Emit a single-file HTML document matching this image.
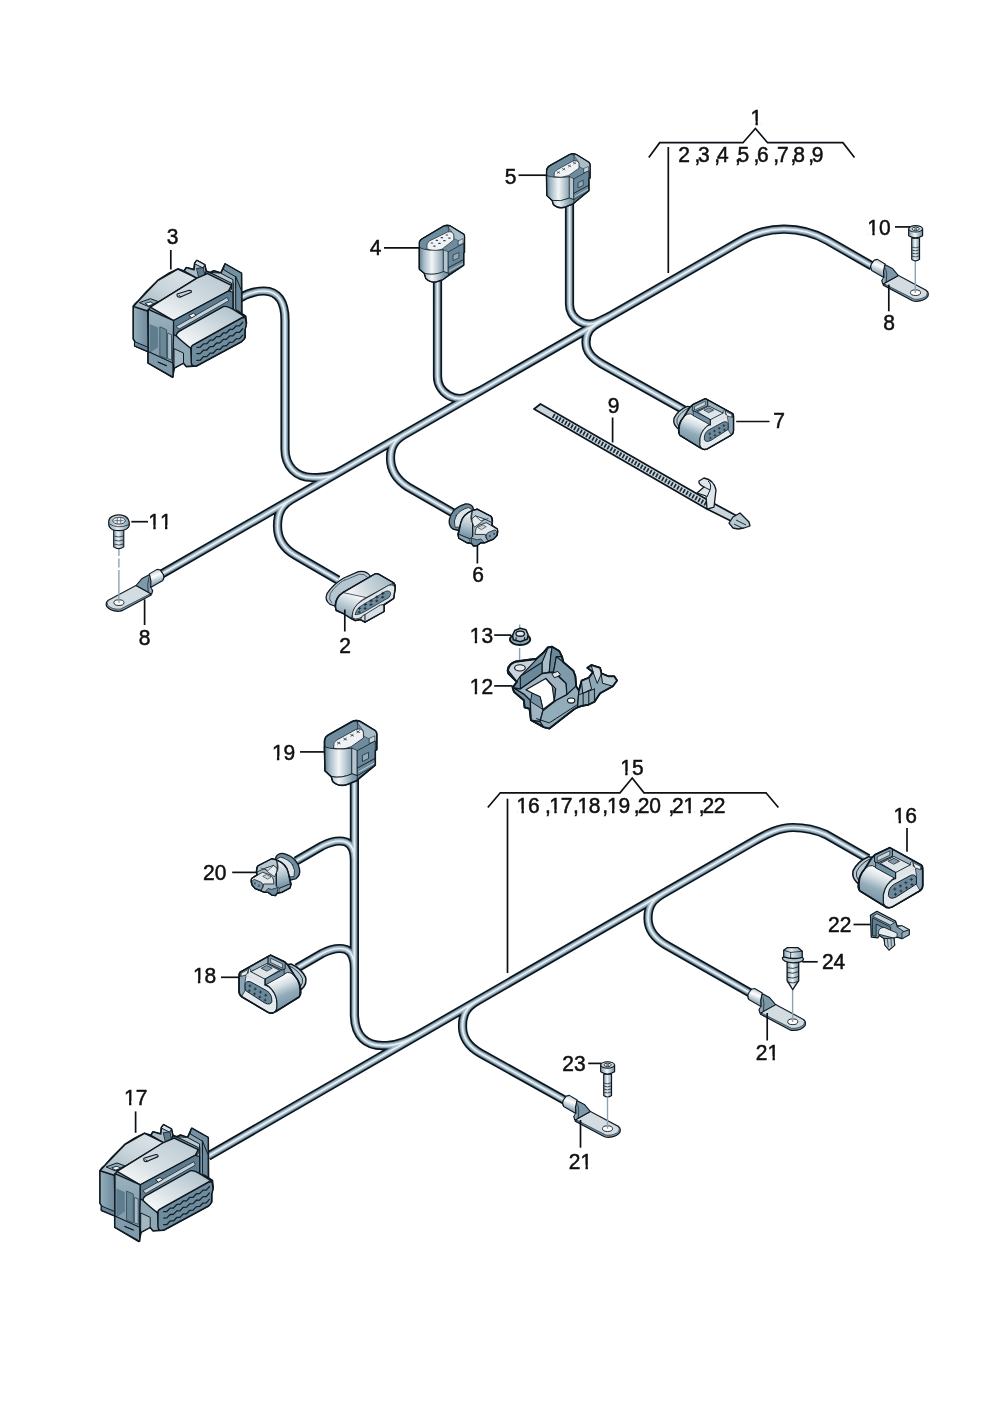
<!DOCTYPE html>
<html><head><meta charset="utf-8"><title>Wiring harness</title>
<style>
html,body{margin:0;padding:0;background:#fff;}
body{width:992px;height:1403px;overflow:hidden;}
svg{display:block;}
text{font-family:"Liberation Sans",sans-serif;fill:#0b1116;stroke:#0b1116;stroke-width:0.5px;}
</style></head><body>
<svg width="992" height="1403" viewBox="0 0 992 1403">
<rect width="992" height="1403" fill="#fff"/>
<g id="wires">
<path d="M160,575 L740.2,241.3 A87,87 0 0 1 827.2,240.3 L872,266 M240,298 C250,292 258,291 264,291 C278,291 285,302 285,320 L285,449 C285,466 296,477.5 312,477.5 C320,478 327,477.5 334,474.9 M437.5,280 L437.5,376 A22,22 0 0 0 470.5,395.4 L481,390.4 M569.5,203 L569.5,303 A20,20 0 0 0 599.5,321.3 L610,316.2 M600,322 C590,327.7 586,332 586,342 C586,352 592,358 602,364 L684,410 M405,434.1 C395,439.8 390.5,446 390.5,458 C390.5,470 397,480 408,487 L455,514 M292,499.1 C282,504.8 277.5,512 277.5,526 C277.5,538 283,548 295,555 L338,580" fill="none" stroke="#0c151c" stroke-width="9.2" stroke-linecap="butt" stroke-linejoin="round"/>
<path d="M160,575 L740.2,241.3 A87,87 0 0 1 827.2,240.3 L872,266 M240,298 C250,292 258,291 264,291 C278,291 285,302 285,320 L285,449 C285,466 296,477.5 312,477.5 C320,478 327,477.5 334,474.9 M437.5,280 L437.5,376 A22,22 0 0 0 470.5,395.4 L481,390.4 M569.5,203 L569.5,303 A20,20 0 0 0 599.5,321.3 L610,316.2 M600,322 C590,327.7 586,332 586,342 C586,352 592,358 602,364 L684,410 M405,434.1 C395,439.8 390.5,446 390.5,458 C390.5,470 397,480 408,487 L455,514 M292,499.1 C282,504.8 277.5,512 277.5,526 C277.5,538 283,548 295,555 L338,580" fill="none" stroke="#5f7d90" stroke-width="6.0" stroke-linecap="butt" stroke-linejoin="round"/>
<path d="M160,575 L740.2,241.3 A87,87 0 0 1 827.2,240.3 L872,266 M240,298 C250,292 258,291 264,291 C278,291 285,302 285,320 L285,449 C285,466 296,477.5 312,477.5 C320,478 327,477.5 334,474.9 M437.5,280 L437.5,376 A22,22 0 0 0 470.5,395.4 L481,390.4 M569.5,203 L569.5,303 A20,20 0 0 0 599.5,321.3 L610,316.2 M600,322 C590,327.7 586,332 586,342 C586,352 592,358 602,364 L684,410 M405,434.1 C395,439.8 390.5,446 390.5,458 C390.5,470 397,480 408,487 L455,514 M292,499.1 C282,504.8 277.5,512 277.5,526 C277.5,538 283,548 295,555 L338,580" fill="none" stroke="#a5bac7" stroke-width="4.3" stroke-linecap="butt" stroke-linejoin="round"/>
<path d="M160,575 L740.2,241.3 A87,87 0 0 1 827.2,240.3 L872,266 M240,298 C250,292 258,291 264,291 C278,291 285,302 285,320 L285,449 C285,466 296,477.5 312,477.5 C320,478 327,477.5 334,474.9 M437.5,280 L437.5,376 A22,22 0 0 0 470.5,395.4 L481,390.4 M569.5,203 L569.5,303 A20,20 0 0 0 599.5,321.3 L610,316.2 M600,322 C590,327.7 586,332 586,342 C586,352 592,358 602,364 L684,410 M405,434.1 C395,439.8 390.5,446 390.5,458 C390.5,470 397,480 408,487 L455,514 M292,499.1 C282,504.8 277.5,512 277.5,526 C277.5,538 283,548 295,555 L338,580" fill="none" stroke="#e9eff2" stroke-width="1.7" stroke-linecap="butt" stroke-linejoin="round"/>
<path d="M208,1156.3 L752,842.3 C768,833 780,827.5 793,827.5 C805,827.5 815,829.5 826,834.5 L868,858.5 M354.4,780 L354.4,1014 C354.4,1036 366,1046.5 385,1045.5 C397,1046 408,1041 426,1030.5 M296,861 L322,846 C332,841 340,840 346,842 C351,844 354.4,850 354.4,860 L354.4,875 M297,968 L322,953.5 C332,948.5 340,947.5 346,949.5 C351,951.5 354.4,958 354.4,968 L354.4,982 M478,1000.5 C467,1006.8 462.5,1013 462.5,1026 C462.5,1038 468,1046 480,1053 L566,1101 M664,893.1 C653,899.5 648,905 648,918 C648,930 654,938 666,945 L752,994" fill="none" stroke="#0c151c" stroke-width="9.2" stroke-linecap="butt" stroke-linejoin="round"/>
<path d="M208,1156.3 L752,842.3 C768,833 780,827.5 793,827.5 C805,827.5 815,829.5 826,834.5 L868,858.5 M354.4,780 L354.4,1014 C354.4,1036 366,1046.5 385,1045.5 C397,1046 408,1041 426,1030.5 M296,861 L322,846 C332,841 340,840 346,842 C351,844 354.4,850 354.4,860 L354.4,875 M297,968 L322,953.5 C332,948.5 340,947.5 346,949.5 C351,951.5 354.4,958 354.4,968 L354.4,982 M478,1000.5 C467,1006.8 462.5,1013 462.5,1026 C462.5,1038 468,1046 480,1053 L566,1101 M664,893.1 C653,899.5 648,905 648,918 C648,930 654,938 666,945 L752,994" fill="none" stroke="#5f7d90" stroke-width="6.0" stroke-linecap="butt" stroke-linejoin="round"/>
<path d="M208,1156.3 L752,842.3 C768,833 780,827.5 793,827.5 C805,827.5 815,829.5 826,834.5 L868,858.5 M354.4,780 L354.4,1014 C354.4,1036 366,1046.5 385,1045.5 C397,1046 408,1041 426,1030.5 M296,861 L322,846 C332,841 340,840 346,842 C351,844 354.4,850 354.4,860 L354.4,875 M297,968 L322,953.5 C332,948.5 340,947.5 346,949.5 C351,951.5 354.4,958 354.4,968 L354.4,982 M478,1000.5 C467,1006.8 462.5,1013 462.5,1026 C462.5,1038 468,1046 480,1053 L566,1101 M664,893.1 C653,899.5 648,905 648,918 C648,930 654,938 666,945 L752,994" fill="none" stroke="#a5bac7" stroke-width="4.3" stroke-linecap="butt" stroke-linejoin="round"/>
<path d="M208,1156.3 L752,842.3 C768,833 780,827.5 793,827.5 C805,827.5 815,829.5 826,834.5 L868,858.5 M354.4,780 L354.4,1014 C354.4,1036 366,1046.5 385,1045.5 C397,1046 408,1041 426,1030.5 M296,861 L322,846 C332,841 340,840 346,842 C351,844 354.4,850 354.4,860 L354.4,875 M297,968 L322,953.5 C332,948.5 340,947.5 346,949.5 C351,951.5 354.4,958 354.4,968 L354.4,982 M478,1000.5 C467,1006.8 462.5,1013 462.5,1026 C462.5,1038 468,1046 480,1053 L566,1101 M664,893.1 C653,899.5 648,905 648,918 C648,930 654,938 666,945 L752,994" fill="none" stroke="#e9eff2" stroke-width="1.7" stroke-linecap="butt" stroke-linejoin="round"/>
</g>
<g id="tie9"><path d="M540.5,404 L534,409 L707,509 L733,522 L737,516 L713,503 Z" fill="#c9d5db" stroke="#0e1820" stroke-width="1.8" stroke-linejoin="round"/>
<path d="M553,415.5 L708,505" fill="none" stroke="#1c2b36" stroke-width="4.4" stroke-dasharray="1.7 1.8"/>
<path d="M697,493 L704,487 Q698,484 699,481 L704,478 Q714,480 716,490 L714,507 L707,509 L706,496 Z" fill="#dfe6ea" stroke="#0e1820" stroke-width="1.3" stroke-linejoin="round"/>
<path d="M704,487 L710,490 L707,497 M710,490 Q712,484 708,481" fill="none" stroke="#0e1820" stroke-width="1"/>
<path d="M729,523 L733,517 L740,513 L744,517 L749,522 L750,526 L744,528 L738,529 L733,528 Z" fill="#b9c9d2" stroke="#0e1820" stroke-width="1.3" stroke-linejoin="round"/>
<path d="M736,520 L746,525 M734,524 L742,528" fill="none" stroke="#0e1820" stroke-width="0.9"/></g>
<g id="conn3"><g transform="translate(120,250) scale(0.14112)"><defs>
<linearGradient id="c3g1" x1="0" y1="0" x2="1" y2="0"><stop offset="0" stop-color="#94adbb"/><stop offset="1" stop-color="#6c899b"/></linearGradient>
<linearGradient id="c3g2" x1="0" y1="1" x2="1" y2="0"><stop offset="0" stop-color="#9db2bf"/><stop offset="0.5" stop-color="#c9d5db"/><stop offset="1" stop-color="#dfe6ea"/></linearGradient>
<linearGradient id="c3g3" x1="0" y1="1" x2="1" y2="0"><stop offset="0" stop-color="#fbfcfc"/><stop offset="0.45" stop-color="#d5dee3"/><stop offset="1" stop-color="#b7c6cf"/></linearGradient>
<linearGradient id="c3g4" x1="0" y1="0" x2="0" y2="1"><stop offset="0" stop-color="#9ab0bd"/><stop offset="1" stop-color="#7995a6"/></linearGradient>
<linearGradient id="c3g5" x1="0" y1="1" x2="1" y2="0"><stop offset="0" stop-color="#ffffff"/><stop offset="0.5" stop-color="#d3dde2"/><stop offset="1" stop-color="#a9bcc7"/></linearGradient>
</defs><path d="M95,400 L110,380 L130,362 L180,305 L270,215 L340,170 L410,135 L455,150 L470,125 L525,140 L530,95 L545,75 L600,105 L610,150 L640,160 L665,148 L715,165 L745,100 L860,165 L862,450 L890,470 L895,520 L885,560 L885,620 L860,650 L545,820 L470,825 L450,800 L385,835 L370,900 L200,800 L200,720 L105,680 L108,650 L95,630 Z" fill="#7d99aa" stroke="#0e1820" stroke-width="14" stroke-linejoin="round" stroke-linecap="round" />
<path d="M95,400 L195,432 L200,650 L200,720 L105,680 L108,650 L95,630 Z" fill="url(#c3g1)" stroke="#0e1820" stroke-width="8" stroke-linejoin="round" stroke-linecap="round" />
<path d="M105,650 L200,690 L200,720 L105,680 Z" fill="#6a8799" stroke="#0e1820" stroke-width="7" stroke-linejoin="round" stroke-linecap="round" />
<path d="M95,400 L130,362 L270,215 L410,135 L545,200 L215,405 L195,432 Z" fill="url(#c3g2)" stroke="#0e1820" stroke-width="10" stroke-linejoin="round" stroke-linecap="round" />
<path d="M140,372 L215,345 L270,365 L205,400 Z" fill="#8fa8b6" stroke="#0e1820" stroke-width="7" stroke-linejoin="round" stroke-linecap="round" />
<path d="M180,378 L215,368 L240,382 L205,395 Z" fill="#f4f7f8" stroke="#0e1820" stroke-width="6" stroke-linejoin="round" stroke-linecap="round" />
<path d="M455,150 L470,125 L525,140 L530,95 L545,75 L600,105 L610,150 L600,180 L560,200 L545,200 Z" fill="#a9bcc8" stroke="#0e1820" stroke-width="10" stroke-linejoin="round" stroke-linecap="round" />
<path d="M530,95 L545,75 L600,105 L590,125 Z" fill="#d9e2e7" stroke="#0e1820" stroke-width="7" stroke-linejoin="round" stroke-linecap="round" />
<path d="M545,130 L590,125 L600,175 L560,195 Z" fill="#5d7a8c" stroke="#0e1820" stroke-width="6" stroke-linejoin="round" stroke-linecap="round" />
<path d="M640,160 L665,148 L715,165 L745,100 L860,165 L862,450 L800,420 L800,235 Z" fill="#8aa4b3" stroke="#0e1820" stroke-width="10" stroke-linejoin="round" stroke-linecap="round" />
<path d="M745,100 L860,165 L860,290 L820,270 L820,190 L735,140 Z" fill="#7391a3" stroke="#0e1820" stroke-width="7" stroke-linejoin="round" stroke-linecap="round" />
<path d="M715,165 L800,210 L800,420 L770,400 L770,290 L790,280 L790,235 L640,160 Z" fill="#b9c8d1" stroke="#0e1820" stroke-width="7" stroke-linejoin="round" stroke-linecap="round" />
<path d="M820,190 L820,420 L860,445 L860,290 Z" fill="#6d8a9c" stroke="#0e1820" stroke-width="7" stroke-linejoin="round" stroke-linecap="round" />
<path d="M215,405 L545,200 L620,168 L790,250 L770,290 L380,500 Z" fill="url(#c3g3)" stroke="#0e1820" stroke-width="10" stroke-linejoin="round" stroke-linecap="round" />
<path d="M405,312 L490,285 Q510,285 505,300 L425,335 Q400,335 405,312 Z" fill="#c5d1d8" stroke="#0e1820" stroke-width="8" stroke-linejoin="round" stroke-linecap="round" />
<path d="M420,322 L430,332" fill="none" stroke="#0e1820" stroke-width="7" stroke-linejoin="round" stroke-linecap="round" />
<path d="M200,420 L380,500 L375,900 L200,800 Z" fill="url(#c3g4)" stroke="#0e1820" stroke-width="10" stroke-linejoin="round" stroke-linecap="round" />
<path d="M210,525 L270,550 L270,690 L210,730 Z" fill="#5f7d8f" stroke="none" stroke-width="7" stroke-linejoin="round" stroke-linecap="round" />
<path d="M285,545 L330,565 L330,770 L285,750 Z" fill="#6b8899" stroke="#3d5564" stroke-width="7" stroke-linejoin="round" stroke-linecap="round" />
<path d="M340,590 L365,600 L365,780 L340,770 Z" fill="#a8bcc8" stroke="#3d5564" stroke-width="7" stroke-linejoin="round" stroke-linecap="round" />
<path d="M200,720 L375,800 L375,900 L200,800 Z" fill="#7f9bab" stroke="#0e1820" stroke-width="8" stroke-linejoin="round" stroke-linecap="round" />
<path d="M270,795 L330,820 Z" fill="none" stroke="#0e1820" stroke-width="7" stroke-linejoin="round" stroke-linecap="round" />
<path d="M380,500 L770,290 L800,300 L800,420 L740,400 L440,570 L400,610 L380,600 Z" fill="#5e7c8e" stroke="#0e1820" stroke-width="8" stroke-linejoin="round" stroke-linecap="round" />
<path d="M400,540 L760,335 L770,360 L420,560 Z" fill="#c3d0d8" stroke="#2a3d4a" stroke-width="7" stroke-linejoin="round" stroke-linecap="round" />
<path d="M490,462 L520,448 L540,462 L510,480 Z" fill="#eef2f4" stroke="#0e1820" stroke-width="6" stroke-linejoin="round" stroke-linecap="round" />
<path d="M380,600 L400,610 L500,690 L510,820 L470,825 L450,800 L385,835 L375,800 Z" fill="#8ea8b6" stroke="#0e1820" stroke-width="8" stroke-linejoin="round" stroke-linecap="round" />
<path d="M385,700 L450,730 L450,800 L385,835 Z" fill="#a4b8c4" stroke="#0e1820" stroke-width="7" stroke-linejoin="round" stroke-linecap="round" />
<path d="M505,700 Q495,680 525,668 L860,482 Q885,472 890,490 L895,530 L885,570 L885,620 Q880,640 860,650 L545,820 Q510,830 505,800 Z" fill="#6f8c9e" stroke="#0e1820" stroke-width="10" stroke-linejoin="round" stroke-linecap="round" />
<path d="M400,610 Q395,585 440,565 L735,400 Q760,395 800,420 L880,470 L525,668 Q500,680 505,700 Q440,650 400,610 Z" fill="url(#c3g5)" stroke="#0e1820" stroke-width="10" stroke-linejoin="round" stroke-linecap="round" />
<path d="M545,690 L568,689 L591,665 L615,664 L638,639 L661,638 L684,614 L708,613 L731,588 L754,588 L777,563 L800,562 L824,537 L847,537 L870,512" fill="none" stroke="#14212a" stroke-width="9" stroke-linejoin="round" stroke-linecap="round" />
<path d="M545,735 L568,734 L591,710 L615,709 L638,684 L661,684 L684,659 L708,658 L731,634 L754,633 L777,609 L800,608 L824,583 L847,583 L870,558" fill="none" stroke="#14212a" stroke-width="9" stroke-linejoin="round" stroke-linecap="round" />
<path d="M545,782 L568,781 L591,756 L615,756 L638,731 L661,730 L684,705 L708,705 L731,680 L754,679 L777,654 L800,653 L824,629 L847,628 L870,603" fill="none" stroke="#14212a" stroke-width="9" stroke-linejoin="round" stroke-linecap="round" /></g></g>
<g id="conn17"><g transform="translate(86.7,1114.3) scale(0.14112)"><defs>
<linearGradient id="c17g1" x1="0" y1="0" x2="1" y2="0"><stop offset="0" stop-color="#94adbb"/><stop offset="1" stop-color="#6c899b"/></linearGradient>
<linearGradient id="c17g2" x1="0" y1="1" x2="1" y2="0"><stop offset="0" stop-color="#9db2bf"/><stop offset="0.5" stop-color="#c9d5db"/><stop offset="1" stop-color="#dfe6ea"/></linearGradient>
<linearGradient id="c17g3" x1="0" y1="1" x2="1" y2="0"><stop offset="0" stop-color="#fbfcfc"/><stop offset="0.45" stop-color="#d5dee3"/><stop offset="1" stop-color="#b7c6cf"/></linearGradient>
<linearGradient id="c17g4" x1="0" y1="0" x2="0" y2="1"><stop offset="0" stop-color="#9ab0bd"/><stop offset="1" stop-color="#7995a6"/></linearGradient>
<linearGradient id="c17g5" x1="0" y1="1" x2="1" y2="0"><stop offset="0" stop-color="#ffffff"/><stop offset="0.5" stop-color="#d3dde2"/><stop offset="1" stop-color="#a9bcc7"/></linearGradient>
</defs><path d="M95,400 L110,380 L130,362 L180,305 L270,215 L340,170 L410,135 L455,150 L470,125 L525,140 L530,95 L545,75 L600,105 L610,150 L640,160 L665,148 L715,165 L745,100 L860,165 L862,450 L890,470 L895,520 L885,560 L885,620 L860,650 L545,820 L470,825 L450,800 L385,835 L370,900 L200,800 L200,720 L105,680 L108,650 L95,630 Z" fill="#7d99aa" stroke="#0e1820" stroke-width="14" stroke-linejoin="round" stroke-linecap="round" />
<path d="M95,400 L195,432 L200,650 L200,720 L105,680 L108,650 L95,630 Z" fill="url(#c17g1)" stroke="#0e1820" stroke-width="8" stroke-linejoin="round" stroke-linecap="round" />
<path d="M105,650 L200,690 L200,720 L105,680 Z" fill="#6a8799" stroke="#0e1820" stroke-width="7" stroke-linejoin="round" stroke-linecap="round" />
<path d="M95,400 L130,362 L270,215 L410,135 L545,200 L215,405 L195,432 Z" fill="url(#c17g2)" stroke="#0e1820" stroke-width="10" stroke-linejoin="round" stroke-linecap="round" />
<path d="M140,372 L215,345 L270,365 L205,400 Z" fill="#8fa8b6" stroke="#0e1820" stroke-width="7" stroke-linejoin="round" stroke-linecap="round" />
<path d="M180,378 L215,368 L240,382 L205,395 Z" fill="#f4f7f8" stroke="#0e1820" stroke-width="6" stroke-linejoin="round" stroke-linecap="round" />
<path d="M455,150 L470,125 L525,140 L530,95 L545,75 L600,105 L610,150 L600,180 L560,200 L545,200 Z" fill="#a9bcc8" stroke="#0e1820" stroke-width="10" stroke-linejoin="round" stroke-linecap="round" />
<path d="M530,95 L545,75 L600,105 L590,125 Z" fill="#d9e2e7" stroke="#0e1820" stroke-width="7" stroke-linejoin="round" stroke-linecap="round" />
<path d="M545,130 L590,125 L600,175 L560,195 Z" fill="#5d7a8c" stroke="#0e1820" stroke-width="6" stroke-linejoin="round" stroke-linecap="round" />
<path d="M640,160 L665,148 L715,165 L745,100 L860,165 L862,450 L800,420 L800,235 Z" fill="#8aa4b3" stroke="#0e1820" stroke-width="10" stroke-linejoin="round" stroke-linecap="round" />
<path d="M745,100 L860,165 L860,290 L820,270 L820,190 L735,140 Z" fill="#7391a3" stroke="#0e1820" stroke-width="7" stroke-linejoin="round" stroke-linecap="round" />
<path d="M715,165 L800,210 L800,420 L770,400 L770,290 L790,280 L790,235 L640,160 Z" fill="#b9c8d1" stroke="#0e1820" stroke-width="7" stroke-linejoin="round" stroke-linecap="round" />
<path d="M820,190 L820,420 L860,445 L860,290 Z" fill="#6d8a9c" stroke="#0e1820" stroke-width="7" stroke-linejoin="round" stroke-linecap="round" />
<path d="M215,405 L545,200 L620,168 L790,250 L770,290 L380,500 Z" fill="url(#c17g3)" stroke="#0e1820" stroke-width="10" stroke-linejoin="round" stroke-linecap="round" />
<path d="M405,312 L490,285 Q510,285 505,300 L425,335 Q400,335 405,312 Z" fill="#c5d1d8" stroke="#0e1820" stroke-width="8" stroke-linejoin="round" stroke-linecap="round" />
<path d="M420,322 L430,332" fill="none" stroke="#0e1820" stroke-width="7" stroke-linejoin="round" stroke-linecap="round" />
<path d="M200,420 L380,500 L375,900 L200,800 Z" fill="url(#c17g4)" stroke="#0e1820" stroke-width="10" stroke-linejoin="round" stroke-linecap="round" />
<path d="M210,525 L270,550 L270,690 L210,730 Z" fill="#5f7d8f" stroke="none" stroke-width="7" stroke-linejoin="round" stroke-linecap="round" />
<path d="M285,545 L330,565 L330,770 L285,750 Z" fill="#6b8899" stroke="#3d5564" stroke-width="7" stroke-linejoin="round" stroke-linecap="round" />
<path d="M340,590 L365,600 L365,780 L340,770 Z" fill="#a8bcc8" stroke="#3d5564" stroke-width="7" stroke-linejoin="round" stroke-linecap="round" />
<path d="M200,720 L375,800 L375,900 L200,800 Z" fill="#7f9bab" stroke="#0e1820" stroke-width="8" stroke-linejoin="round" stroke-linecap="round" />
<path d="M270,795 L330,820 Z" fill="none" stroke="#0e1820" stroke-width="7" stroke-linejoin="round" stroke-linecap="round" />
<path d="M380,500 L770,290 L800,300 L800,420 L740,400 L440,570 L400,610 L380,600 Z" fill="#5e7c8e" stroke="#0e1820" stroke-width="8" stroke-linejoin="round" stroke-linecap="round" />
<path d="M400,540 L760,335 L770,360 L420,560 Z" fill="#c3d0d8" stroke="#2a3d4a" stroke-width="7" stroke-linejoin="round" stroke-linecap="round" />
<path d="M490,462 L520,448 L540,462 L510,480 Z" fill="#eef2f4" stroke="#0e1820" stroke-width="6" stroke-linejoin="round" stroke-linecap="round" />
<path d="M380,600 L400,610 L500,690 L510,820 L470,825 L450,800 L385,835 L375,800 Z" fill="#8ea8b6" stroke="#0e1820" stroke-width="8" stroke-linejoin="round" stroke-linecap="round" />
<path d="M385,700 L450,730 L450,800 L385,835 Z" fill="#a4b8c4" stroke="#0e1820" stroke-width="7" stroke-linejoin="round" stroke-linecap="round" />
<path d="M505,700 Q495,680 525,668 L860,482 Q885,472 890,490 L895,530 L885,570 L885,620 Q880,640 860,650 L545,820 Q510,830 505,800 Z" fill="#6f8c9e" stroke="#0e1820" stroke-width="10" stroke-linejoin="round" stroke-linecap="round" />
<path d="M400,610 Q395,585 440,565 L735,400 Q760,395 800,420 L880,470 L525,668 Q500,680 505,700 Q440,650 400,610 Z" fill="url(#c17g5)" stroke="#0e1820" stroke-width="10" stroke-linejoin="round" stroke-linecap="round" />
<path d="M545,690 L568,689 L591,665 L615,664 L638,639 L661,638 L684,614 L708,613 L731,588 L754,588 L777,563 L800,562 L824,537 L847,537 L870,512" fill="none" stroke="#14212a" stroke-width="9" stroke-linejoin="round" stroke-linecap="round" />
<path d="M545,735 L568,734 L591,710 L615,709 L638,684 L661,684 L684,659 L708,658 L731,634 L754,633 L777,609 L800,608 L824,583 L847,583 L870,558" fill="none" stroke="#14212a" stroke-width="9" stroke-linejoin="round" stroke-linecap="round" />
<path d="M545,782 L568,781 L591,756 L615,756 L638,731 L661,730 L684,705 L708,705 L731,680 L754,679 L777,654 L800,653 L824,629 L847,628 L870,603" fill="none" stroke="#14212a" stroke-width="9" stroke-linejoin="round" stroke-linecap="round" /></g></g>
<g id="conn5"><g transform="translate(530.00,140.00) scale(0.08065,0.08065)"><defs><linearGradient id="c5cy" gradientUnits="userSpaceOnUse" x1="205" y1="0" x2="500" y2="0"><stop offset="0" stop-color="#5f7e90"/><stop offset="0.18" stop-color="#a5bac6"/><stop offset="0.5" stop-color="#f3f6f7"/><stop offset="0.75" stop-color="#b9c9d2"/><stop offset="1" stop-color="#7f9bab"/></linearGradient></defs><path d="M205,440 L205,380 Q210,335 250,315 L490,180 Q535,160 575,180 L730,275 Q745,290 745,310 L745,470 L730,480 L730,630 L560,770 L540,790 L440,830 Q350,860 290,800 L275,750 L210,690 Z" fill="#6f8c9e" stroke="#0e1820" stroke-width="14" stroke-linejoin="round" stroke-linecap="round" />
<path d="M545,185 L575,180 L730,275 L745,310 L745,400 L610,330 L605,280 Z" fill="#a9bdc9" stroke="#0e1820" stroke-width="5" stroke-linejoin="round" stroke-linecap="round" />
<path d="M520,180 L545,185 L545,260" fill="none" stroke="#0e1820" stroke-width="6" stroke-linejoin="round" stroke-linecap="round" />
<path d="M300,430 Q292,395 330,372 L530,262 Q590,245 607,288 L607,350 L480,440 Q380,480 300,455 Z" fill="#eef2f4" stroke="#0e1820" stroke-width="8" stroke-linejoin="round" stroke-linecap="round" />
<path d="M337,394 L367,410 M340,413 L364,391" fill="none" stroke="#1c2b36" stroke-width="8" stroke-linejoin="round" stroke-linecap="round" />
<path d="M403,354 L433,370 M406,373 L430,351" fill="none" stroke="#1c2b36" stroke-width="8" stroke-linejoin="round" stroke-linecap="round" />
<path d="M475,314 L505,330 M478,333 L502,311" fill="none" stroke="#1c2b36" stroke-width="8" stroke-linejoin="round" stroke-linecap="round" />
<path d="M537,278 L567,294 M540,297 L564,275" fill="none" stroke="#1c2b36" stroke-width="8" stroke-linejoin="round" stroke-linecap="round" />
<path d="M205,440 Q300,480 490,455 L490,720 Q380,770 280,750 L210,690 Z" fill="url(#c5cy)" stroke="#0e1820" stroke-width="9" stroke-linejoin="round" stroke-linecap="round" />
<path d="M490,455 L545,480 L545,740 L490,720 Z" fill="#b4c5cf" stroke="#0e1820" stroke-width="7" stroke-linejoin="round" stroke-linecap="round" />
<path d="M545,480 L730,380 L730,630 L545,740 Z" fill="#6a8899" stroke="#0e1820" stroke-width="8" stroke-linejoin="round" stroke-linecap="round" />
<path d="M600,528 L660,498 L660,562 L600,592 Z" fill="#93abb9" stroke="#0e1820" stroke-width="7" stroke-linejoin="round" stroke-linecap="round" />
<path d="M545,660 L730,560 Z" fill="none" stroke="#0e1820" stroke-width="6" stroke-linejoin="round" stroke-linecap="round" />
<path d="M560,700 L720,610 Z" fill="none" stroke="#dfe7eb" stroke-width="5" stroke-linejoin="round" stroke-linecap="round" />
<path d="M670,352 L725,328 L725,382 L670,405 Z" fill="#c5d2d9" stroke="#0e1820" stroke-width="6" stroke-linejoin="round" stroke-linecap="round" />
<path d="M275,750 L290,800 Q350,858 440,830 L540,790 L545,740 L490,720 Q380,770 280,750 Z" fill="url(#c5cy)" stroke="#0e1820" stroke-width="9" stroke-linejoin="round" stroke-linecap="round" />
<path d="M205,440 L205,380 Q210,335 250,315 L490,180 Q535,160 575,180 L730,275 Q745,290 745,310 L745,470 L730,480 L730,630 L560,770 L540,790 L440,830 Q350,860 290,800 L275,750 L210,690 Z" fill="none" stroke="#0e1820" stroke-width="16" stroke-linejoin="round" stroke-linecap="round" /></g></g>
<g id="conn19"><g transform="translate(304.68,704.10) scale(0.09677,0.09677)"><defs><linearGradient id="c19cy" gradientUnits="userSpaceOnUse" x1="205" y1="0" x2="500" y2="0"><stop offset="0" stop-color="#5f7e90"/><stop offset="0.18" stop-color="#a5bac6"/><stop offset="0.5" stop-color="#f3f6f7"/><stop offset="0.75" stop-color="#b9c9d2"/><stop offset="1" stop-color="#7f9bab"/></linearGradient></defs><path d="M205,440 L205,380 Q210,335 250,315 L490,180 Q535,160 575,180 L730,275 Q745,290 745,310 L745,470 L730,480 L730,630 L560,770 L540,790 L440,830 Q350,860 290,800 L275,750 L210,690 Z" fill="#6f8c9e" stroke="#0e1820" stroke-width="14" stroke-linejoin="round" stroke-linecap="round" />
<path d="M545,185 L575,180 L730,275 L745,310 L745,400 L610,330 L605,280 Z" fill="#a9bdc9" stroke="#0e1820" stroke-width="5" stroke-linejoin="round" stroke-linecap="round" />
<path d="M520,180 L545,185 L545,260" fill="none" stroke="#0e1820" stroke-width="6" stroke-linejoin="round" stroke-linecap="round" />
<path d="M300,430 Q292,395 330,372 L530,262 Q590,245 607,288 L607,350 L480,440 Q380,480 300,455 Z" fill="#eef2f4" stroke="#0e1820" stroke-width="8" stroke-linejoin="round" stroke-linecap="round" />
<path d="M337,394 L367,410 M340,413 L364,391" fill="none" stroke="#1c2b36" stroke-width="8" stroke-linejoin="round" stroke-linecap="round" />
<path d="M403,354 L433,370 M406,373 L430,351" fill="none" stroke="#1c2b36" stroke-width="8" stroke-linejoin="round" stroke-linecap="round" />
<path d="M475,314 L505,330 M478,333 L502,311" fill="none" stroke="#1c2b36" stroke-width="8" stroke-linejoin="round" stroke-linecap="round" />
<path d="M537,278 L567,294 M540,297 L564,275" fill="none" stroke="#1c2b36" stroke-width="8" stroke-linejoin="round" stroke-linecap="round" />
<path d="M205,440 Q300,480 490,455 L490,720 Q380,770 280,750 L210,690 Z" fill="url(#c19cy)" stroke="#0e1820" stroke-width="9" stroke-linejoin="round" stroke-linecap="round" />
<path d="M490,455 L545,480 L545,740 L490,720 Z" fill="#b4c5cf" stroke="#0e1820" stroke-width="7" stroke-linejoin="round" stroke-linecap="round" />
<path d="M545,480 L730,380 L730,630 L545,740 Z" fill="#6a8899" stroke="#0e1820" stroke-width="8" stroke-linejoin="round" stroke-linecap="round" />
<path d="M600,528 L660,498 L660,562 L600,592 Z" fill="#93abb9" stroke="#0e1820" stroke-width="7" stroke-linejoin="round" stroke-linecap="round" />
<path d="M545,660 L730,560 Z" fill="none" stroke="#0e1820" stroke-width="6" stroke-linejoin="round" stroke-linecap="round" />
<path d="M560,700 L720,610 Z" fill="none" stroke="#dfe7eb" stroke-width="5" stroke-linejoin="round" stroke-linecap="round" />
<path d="M670,352 L725,328 L725,382 L670,405 Z" fill="#c5d2d9" stroke="#0e1820" stroke-width="6" stroke-linejoin="round" stroke-linecap="round" />
<path d="M275,750 L290,800 Q350,858 440,830 L540,790 L545,740 L490,720 Q380,770 280,750 Z" fill="url(#c19cy)" stroke="#0e1820" stroke-width="9" stroke-linejoin="round" stroke-linecap="round" />
<path d="M205,440 L205,380 Q210,335 250,315 L490,180 Q535,160 575,180 L730,275 Q745,290 745,310 L745,470 L730,480 L730,630 L560,770 L540,790 L440,830 Q350,860 290,800 L275,750 L210,690 Z" fill="none" stroke="#0e1820" stroke-width="16" stroke-linejoin="round" stroke-linecap="round" /></g></g>
<g id="conn4"><g transform="translate(400.00,220.00) scale(0.08065,0.08065)"><defs><linearGradient id="c4cy" gradientUnits="userSpaceOnUse" x1="240" y1="0" x2="550" y2="0"><stop offset="0" stop-color="#5f7e90"/><stop offset="0.18" stop-color="#a5bac6"/><stop offset="0.5" stop-color="#f3f6f7"/><stop offset="0.75" stop-color="#b9c9d2"/><stop offset="1" stop-color="#7f9bab"/></linearGradient></defs><path d="M240,340 L240,275 Q245,250 270,235 L540,75 Q590,55 625,75 L790,175 Q800,185 800,200 L800,400 L790,410 L790,560 L600,690 L530,740 L460,765 Q380,785 320,725 L300,660 L240,610 Z" fill="#6f8c9e" stroke="#0e1820" stroke-width="14" stroke-linejoin="round" stroke-linecap="round" />
<path d="M600,85 L625,75 L790,175 L800,200 L800,290 L670,230 L665,180 Z" fill="#a9bdc9" stroke="#0e1820" stroke-width="5" stroke-linejoin="round" stroke-linecap="round" />
<path d="M575,80 L600,85 L600,150" fill="none" stroke="#0e1820" stroke-width="6" stroke-linejoin="round" stroke-linecap="round" />
<path d="M335,335 Q328,282 370,257 L590,150 Q650,133 667,185 L667,247 L520,362 Q420,402 335,358 Z" fill="#eef2f4" stroke="#0e1820" stroke-width="8" stroke-linejoin="round" stroke-linecap="round" />
<path d="M387,285 L403,285" fill="none" stroke="#2b3f4c" stroke-width="15" stroke-linejoin="round" stroke-linecap="round" />
<path d="M419,323 L435,323" fill="none" stroke="#2b3f4c" stroke-width="15" stroke-linejoin="round" stroke-linecap="round" />
<path d="M449,252 L465,252" fill="none" stroke="#2b3f4c" stroke-width="15" stroke-linejoin="round" stroke-linecap="round" />
<path d="M481,290 L497,290" fill="none" stroke="#2b3f4c" stroke-width="15" stroke-linejoin="round" stroke-linecap="round" />
<path d="M511,219 L527,219" fill="none" stroke="#2b3f4c" stroke-width="15" stroke-linejoin="round" stroke-linecap="round" />
<path d="M543,257 L559,257" fill="none" stroke="#2b3f4c" stroke-width="15" stroke-linejoin="round" stroke-linecap="round" />
<path d="M573,186 L589,186" fill="none" stroke="#2b3f4c" stroke-width="15" stroke-linejoin="round" stroke-linecap="round" />
<path d="M605,224 L621,224" fill="none" stroke="#2b3f4c" stroke-width="15" stroke-linejoin="round" stroke-linecap="round" />
<path d="M240,340 Q330,392 540,370 L540,640 Q430,690 310,665 L240,610 Z" fill="url(#c4cy)" stroke="#0e1820" stroke-width="9" stroke-linejoin="round" stroke-linecap="round" />
<path d="M540,370 L600,395 L600,660 L540,640 Z" fill="#b4c5cf" stroke="#0e1820" stroke-width="7" stroke-linejoin="round" stroke-linecap="round" />
<path d="M600,395 L790,290 L790,560 L600,670 Z" fill="#6a8899" stroke="#0e1820" stroke-width="8" stroke-linejoin="round" stroke-linecap="round" />
<path d="M662,432 L730,403 L730,470 L662,502 Z" fill="#93abb9" stroke="#0e1820" stroke-width="7" stroke-linejoin="round" stroke-linecap="round" />
<path d="M600,590 L790,490 Z" fill="none" stroke="#0e1820" stroke-width="6" stroke-linejoin="round" stroke-linecap="round" />
<path d="M615,630 L780,540 Z" fill="none" stroke="#dfe7eb" stroke-width="5" stroke-linejoin="round" stroke-linecap="round" />
<path d="M725,257 L782,230 L782,290 L725,312 Z" fill="#c5d2d9" stroke="#0e1820" stroke-width="6" stroke-linejoin="round" stroke-linecap="round" />
<path d="M300,660 L320,725 Q380,785 460,765 L530,740 L600,690 L600,660 L540,640 Q430,690 310,665 Z" fill="url(#c4cy)" stroke="#0e1820" stroke-width="9" stroke-linejoin="round" stroke-linecap="round" />
<path d="M240,340 L240,275 Q245,250 270,235 L540,75 Q590,55 625,75 L790,175 Q800,185 800,200 L800,400 L790,410 L790,560 L600,690 L530,740 L460,765 Q380,785 320,725 L300,660 L240,610 Z" fill="none" stroke="#0e1820" stroke-width="16" stroke-linejoin="round" stroke-linecap="round" /></g></g>
<g id="conn7"><g transform="translate(660.00,380.00) scale(0.09074,0.09074)"><defs><linearGradient id="c7b" gradientUnits="userSpaceOnUse" x1="400" y1="400" x2="300" y2="650"><stop offset="0" stop-color="#ffffff"/><stop offset="0.35" stop-color="#d5dfe4"/><stop offset="0.7" stop-color="#93acba"/><stop offset="1" stop-color="#7f9bab"/></linearGradient></defs><path d="M300,290 Q200,330 155,420 Q140,480 190,530 L240,560 L360,300 Z" fill="#b9c9d2" stroke="#0e1820" stroke-width="15" stroke-linejoin="round" stroke-linecap="round" />
<path d="M318,308 Q228,348 188,428 Q175,470 208,515" fill="none" stroke="#0e1820" stroke-width="8" stroke-linejoin="round" stroke-linecap="round" />
<path d="M330,300 L360,272 L500,205 L800,370 Q810,380 810,400 L810,560 Q810,590 780,610 L520,760 Q480,775 450,750 L220,610 Q200,590 205,550 Q205,470 260,410 Z" fill="#8ea8b6" stroke="#0e1820" stroke-width="15" stroke-linejoin="round" stroke-linecap="round" />
<path d="M215,600 Q200,480 260,410 Q300,365 335,372 L545,485 Q460,540 440,640 L440,742 Z" fill="url(#c7b)" stroke="#0e1820" stroke-width="9" stroke-linejoin="round" stroke-linecap="round" />
<path d="M440,700 Q430,580 520,510 L730,400 Q800,380 810,420 L810,560 Q810,590 780,610 L520,760 Q460,780 440,720 Z" fill="#e3e9ed" stroke="#0e1820" stroke-width="10" stroke-linejoin="round" stroke-linecap="round" />
<path d="M745,398 Q800,380 810,420 L810,560 Q810,585 785,605 L750,545 L752,470 Z" fill="#8aa5b5" stroke="#0e1820" stroke-width="7" stroke-linejoin="round" stroke-linecap="round" />
<path d="M488,645 Q485,580 540,548 L700,462 Q752,450 752,500 L750,545 L562,665 Q500,695 488,655 Z" fill="#6a8899" stroke="#0e1820" stroke-width="9" stroke-linejoin="round" stroke-linecap="round" />
<path d="M537,592 L559,592 M548,581 L548,603" fill="none" stroke="#14212a" stroke-width="7" stroke-linejoin="round" stroke-linecap="round" />
<path d="M543,640 L565,640 M554,629 L554,651" fill="none" stroke="#14212a" stroke-width="7" stroke-linejoin="round" stroke-linecap="round" />
<path d="M589,562 L611,562 M600,551 L600,573" fill="none" stroke="#14212a" stroke-width="7" stroke-linejoin="round" stroke-linecap="round" />
<path d="M595,610 L617,610 M606,599 L606,621" fill="none" stroke="#14212a" stroke-width="7" stroke-linejoin="round" stroke-linecap="round" />
<path d="M641,532 L663,532 M652,521 L652,543" fill="none" stroke="#14212a" stroke-width="7" stroke-linejoin="round" stroke-linecap="round" />
<path d="M647,580 L669,580 M658,569 L658,591" fill="none" stroke="#14212a" stroke-width="7" stroke-linejoin="round" stroke-linecap="round" />
<path d="M693,502 L715,502 M704,491 L704,513" fill="none" stroke="#14212a" stroke-width="7" stroke-linejoin="round" stroke-linecap="round" />
<path d="M699,550 L721,550 M710,539 L710,561" fill="none" stroke="#14212a" stroke-width="7" stroke-linejoin="round" stroke-linecap="round" />
<path d="M560,430 L700,360 L800,410 L800,370 L525,220 L525,285 L690,365 Z" fill="#9fb4c0" stroke="#0e1820" stroke-width="7" stroke-linejoin="round" stroke-linecap="round" />
<path d="M700,340 L720,330 L720,385 L700,395 Z" fill="#dfe6ea" stroke="#0e1820" stroke-width="6" stroke-linejoin="round" stroke-linecap="round" />
<path d="M720,345 L790,380 L790,410 L740,395 Z" fill="#e6ecef" stroke="#0e1820" stroke-width="6" stroke-linejoin="round" stroke-linecap="round" />
<path d="M360,275 L500,205 L525,220 L525,285 L385,350 L360,340 Z" fill="#7f9bab" stroke="#0e1820" stroke-width="9" stroke-linejoin="round" stroke-linecap="round" />
<path d="M385,290 L500,235 L500,275 L385,330 Z" fill="#c9d5db" stroke="#0e1820" stroke-width="6" stroke-linejoin="round" stroke-linecap="round" />
<path d="M370,340 L555,435 L555,495 L370,395 Z" fill="#7391a3" stroke="#0e1820" stroke-width="8" stroke-linejoin="round" stroke-linecap="round" />
<path d="M560,435 L695,365 L745,400 L560,505 Z" fill="#dfe6ea" stroke="none" stroke-width="7" stroke-linejoin="round" stroke-linecap="round" />
<path d="M415,350 L540,288 L695,365 L560,435 Z" fill="#dde5e9" stroke="#0e1820" stroke-width="8" stroke-linejoin="round" stroke-linecap="round" />
<path d="M488,330 L540,305 L592,332 L540,358 Z" fill="#7f9bab" stroke="#0e1820" stroke-width="7" stroke-linejoin="round" stroke-linecap="round" />
<path d="M555,435 L555,495 Z" fill="none" stroke="#0e1820" stroke-width="7" stroke-linejoin="round" stroke-linecap="round" />
<path d="M330,300 L360,272 L500,205 L800,370 Q810,380 810,400 L810,560 Q810,590 780,610 L520,760 Q480,775 450,750 L220,610 Q200,590 205,550 Q205,470 260,410 Z" fill="none" stroke="#0e1820" stroke-width="15" stroke-linejoin="round" stroke-linecap="round" /></g></g>
<g id="conn16"><g transform="translate(836.70,825.70) scale(0.10610,0.10710)"><defs><linearGradient id="c16b" gradientUnits="userSpaceOnUse" x1="400" y1="400" x2="300" y2="650"><stop offset="0" stop-color="#ffffff"/><stop offset="0.35" stop-color="#d5dfe4"/><stop offset="0.7" stop-color="#93acba"/><stop offset="1" stop-color="#7f9bab"/></linearGradient></defs><path d="M300,290 Q200,330 155,420 Q140,480 190,530 L240,560 L360,300 Z" fill="#b9c9d2" stroke="#0e1820" stroke-width="15" stroke-linejoin="round" stroke-linecap="round" />
<path d="M318,308 Q228,348 188,428 Q175,470 208,515" fill="none" stroke="#0e1820" stroke-width="8" stroke-linejoin="round" stroke-linecap="round" />
<path d="M330,300 L360,272 L500,205 L800,370 Q810,380 810,400 L810,560 Q810,590 780,610 L520,760 Q480,775 450,750 L220,610 Q200,590 205,550 Q205,470 260,410 Z" fill="#8ea8b6" stroke="#0e1820" stroke-width="15" stroke-linejoin="round" stroke-linecap="round" />
<path d="M215,600 Q200,480 260,410 Q300,365 335,372 L545,485 Q460,540 440,640 L440,742 Z" fill="url(#c16b)" stroke="#0e1820" stroke-width="9" stroke-linejoin="round" stroke-linecap="round" />
<path d="M440,700 Q430,580 520,510 L730,400 Q800,380 810,420 L810,560 Q810,590 780,610 L520,760 Q460,780 440,720 Z" fill="#e3e9ed" stroke="#0e1820" stroke-width="10" stroke-linejoin="round" stroke-linecap="round" />
<path d="M745,398 Q800,380 810,420 L810,560 Q810,585 785,605 L750,545 L752,470 Z" fill="#8aa5b5" stroke="#0e1820" stroke-width="7" stroke-linejoin="round" stroke-linecap="round" />
<path d="M488,645 Q485,580 540,548 L700,462 Q752,450 752,500 L750,545 L562,665 Q500,695 488,655 Z" fill="#6a8899" stroke="#0e1820" stroke-width="9" stroke-linejoin="round" stroke-linecap="round" />
<path d="M537,592 L559,592 M548,581 L548,603" fill="none" stroke="#14212a" stroke-width="7" stroke-linejoin="round" stroke-linecap="round" />
<path d="M543,640 L565,640 M554,629 L554,651" fill="none" stroke="#14212a" stroke-width="7" stroke-linejoin="round" stroke-linecap="round" />
<path d="M589,562 L611,562 M600,551 L600,573" fill="none" stroke="#14212a" stroke-width="7" stroke-linejoin="round" stroke-linecap="round" />
<path d="M595,610 L617,610 M606,599 L606,621" fill="none" stroke="#14212a" stroke-width="7" stroke-linejoin="round" stroke-linecap="round" />
<path d="M641,532 L663,532 M652,521 L652,543" fill="none" stroke="#14212a" stroke-width="7" stroke-linejoin="round" stroke-linecap="round" />
<path d="M647,580 L669,580 M658,569 L658,591" fill="none" stroke="#14212a" stroke-width="7" stroke-linejoin="round" stroke-linecap="round" />
<path d="M693,502 L715,502 M704,491 L704,513" fill="none" stroke="#14212a" stroke-width="7" stroke-linejoin="round" stroke-linecap="round" />
<path d="M699,550 L721,550 M710,539 L710,561" fill="none" stroke="#14212a" stroke-width="7" stroke-linejoin="round" stroke-linecap="round" />
<path d="M560,430 L700,360 L800,410 L800,370 L525,220 L525,285 L690,365 Z" fill="#9fb4c0" stroke="#0e1820" stroke-width="7" stroke-linejoin="round" stroke-linecap="round" />
<path d="M700,340 L720,330 L720,385 L700,395 Z" fill="#dfe6ea" stroke="#0e1820" stroke-width="6" stroke-linejoin="round" stroke-linecap="round" />
<path d="M720,345 L790,380 L790,410 L740,395 Z" fill="#e6ecef" stroke="#0e1820" stroke-width="6" stroke-linejoin="round" stroke-linecap="round" />
<path d="M360,275 L500,205 L525,220 L525,285 L385,350 L360,340 Z" fill="#7f9bab" stroke="#0e1820" stroke-width="9" stroke-linejoin="round" stroke-linecap="round" />
<path d="M385,290 L500,235 L500,275 L385,330 Z" fill="#c9d5db" stroke="#0e1820" stroke-width="6" stroke-linejoin="round" stroke-linecap="round" />
<path d="M370,340 L555,435 L555,495 L370,395 Z" fill="#7391a3" stroke="#0e1820" stroke-width="8" stroke-linejoin="round" stroke-linecap="round" />
<path d="M560,435 L695,365 L745,400 L560,505 Z" fill="#dfe6ea" stroke="none" stroke-width="7" stroke-linejoin="round" stroke-linecap="round" />
<path d="M415,350 L540,288 L695,365 L560,435 Z" fill="#dde5e9" stroke="#0e1820" stroke-width="8" stroke-linejoin="round" stroke-linecap="round" />
<path d="M488,330 L540,305 L592,332 L540,358 Z" fill="#7f9bab" stroke="#0e1820" stroke-width="7" stroke-linejoin="round" stroke-linecap="round" />
<path d="M555,435 L555,495 Z" fill="none" stroke="#0e1820" stroke-width="7" stroke-linejoin="round" stroke-linecap="round" />
<path d="M330,300 L360,272 L500,205 L800,370 Q810,380 810,400 L810,560 Q810,590 780,610 L520,760 Q480,775 450,750 L220,610 Q200,590 205,550 Q205,470 260,410 Z" fill="none" stroke="#0e1820" stroke-width="15" stroke-linejoin="round" stroke-linecap="round" /></g></g>
<g id="conn18"><g transform="translate(321.40,933.90) scale(-0.10156,0.10350)"><defs><linearGradient id="c18b" gradientUnits="userSpaceOnUse" x1="400" y1="400" x2="300" y2="650"><stop offset="0" stop-color="#ffffff"/><stop offset="0.35" stop-color="#d5dfe4"/><stop offset="0.7" stop-color="#93acba"/><stop offset="1" stop-color="#7f9bab"/></linearGradient></defs><path d="M300,290 Q200,330 155,420 Q140,480 190,530 L240,560 L360,300 Z" fill="#b9c9d2" stroke="#0e1820" stroke-width="15" stroke-linejoin="round" stroke-linecap="round" />
<path d="M318,308 Q228,348 188,428 Q175,470 208,515" fill="none" stroke="#0e1820" stroke-width="8" stroke-linejoin="round" stroke-linecap="round" />
<path d="M330,300 L360,272 L500,205 L800,370 Q810,380 810,400 L810,560 Q810,590 780,610 L520,760 Q480,775 450,750 L220,610 Q200,590 205,550 Q205,470 260,410 Z" fill="#8ea8b6" stroke="#0e1820" stroke-width="15" stroke-linejoin="round" stroke-linecap="round" />
<path d="M215,600 Q200,480 260,410 Q300,365 335,372 L545,485 Q460,540 440,640 L440,742 Z" fill="url(#c18b)" stroke="#0e1820" stroke-width="9" stroke-linejoin="round" stroke-linecap="round" />
<path d="M440,700 Q430,580 520,510 L730,400 Q800,380 810,420 L810,560 Q810,590 780,610 L520,760 Q460,780 440,720 Z" fill="#e3e9ed" stroke="#0e1820" stroke-width="10" stroke-linejoin="round" stroke-linecap="round" />
<path d="M745,398 Q800,380 810,420 L810,560 Q810,585 785,605 L750,545 L752,470 Z" fill="#8aa5b5" stroke="#0e1820" stroke-width="7" stroke-linejoin="round" stroke-linecap="round" />
<path d="M488,645 Q485,580 540,548 L700,462 Q752,450 752,500 L750,545 L562,665 Q500,695 488,655 Z" fill="#6a8899" stroke="#0e1820" stroke-width="9" stroke-linejoin="round" stroke-linecap="round" />
<path d="M537,592 L559,592 M548,581 L548,603" fill="none" stroke="#14212a" stroke-width="7" stroke-linejoin="round" stroke-linecap="round" />
<path d="M543,640 L565,640 M554,629 L554,651" fill="none" stroke="#14212a" stroke-width="7" stroke-linejoin="round" stroke-linecap="round" />
<path d="M589,562 L611,562 M600,551 L600,573" fill="none" stroke="#14212a" stroke-width="7" stroke-linejoin="round" stroke-linecap="round" />
<path d="M595,610 L617,610 M606,599 L606,621" fill="none" stroke="#14212a" stroke-width="7" stroke-linejoin="round" stroke-linecap="round" />
<path d="M641,532 L663,532 M652,521 L652,543" fill="none" stroke="#14212a" stroke-width="7" stroke-linejoin="round" stroke-linecap="round" />
<path d="M647,580 L669,580 M658,569 L658,591" fill="none" stroke="#14212a" stroke-width="7" stroke-linejoin="round" stroke-linecap="round" />
<path d="M693,502 L715,502 M704,491 L704,513" fill="none" stroke="#14212a" stroke-width="7" stroke-linejoin="round" stroke-linecap="round" />
<path d="M699,550 L721,550 M710,539 L710,561" fill="none" stroke="#14212a" stroke-width="7" stroke-linejoin="round" stroke-linecap="round" />
<path d="M560,430 L700,360 L800,410 L800,370 L525,220 L525,285 L690,365 Z" fill="#9fb4c0" stroke="#0e1820" stroke-width="7" stroke-linejoin="round" stroke-linecap="round" />
<path d="M700,340 L720,330 L720,385 L700,395 Z" fill="#dfe6ea" stroke="#0e1820" stroke-width="6" stroke-linejoin="round" stroke-linecap="round" />
<path d="M720,345 L790,380 L790,410 L740,395 Z" fill="#e6ecef" stroke="#0e1820" stroke-width="6" stroke-linejoin="round" stroke-linecap="round" />
<path d="M360,275 L500,205 L525,220 L525,285 L385,350 L360,340 Z" fill="#7f9bab" stroke="#0e1820" stroke-width="9" stroke-linejoin="round" stroke-linecap="round" />
<path d="M385,290 L500,235 L500,275 L385,330 Z" fill="#c9d5db" stroke="#0e1820" stroke-width="6" stroke-linejoin="round" stroke-linecap="round" />
<path d="M370,340 L555,435 L555,495 L370,395 Z" fill="#7391a3" stroke="#0e1820" stroke-width="8" stroke-linejoin="round" stroke-linecap="round" />
<path d="M560,435 L695,365 L745,400 L560,505 Z" fill="#dfe6ea" stroke="none" stroke-width="7" stroke-linejoin="round" stroke-linecap="round" />
<path d="M415,350 L540,288 L695,365 L560,435 Z" fill="#dde5e9" stroke="#0e1820" stroke-width="8" stroke-linejoin="round" stroke-linecap="round" />
<path d="M488,330 L540,305 L592,332 L540,358 Z" fill="#7f9bab" stroke="#0e1820" stroke-width="7" stroke-linejoin="round" stroke-linecap="round" />
<path d="M555,435 L555,495 Z" fill="none" stroke="#0e1820" stroke-width="7" stroke-linejoin="round" stroke-linecap="round" />
<path d="M330,300 L360,272 L500,205 L800,370 Q810,380 810,400 L810,560 Q810,590 780,610 L520,760 Q480,775 450,750 L220,610 Q200,590 205,550 Q205,470 260,410 Z" fill="none" stroke="#0e1820" stroke-width="15" stroke-linejoin="round" stroke-linecap="round" /></g></g>
<g id="conn2"><g transform="translate(310.00,550.00) scale(0.10081,0.10081)"><defs><linearGradient id="c2b" gradientUnits="userSpaceOnUse" x1="420" y1="420" x2="330" y2="640"><stop offset="0" stop-color="#ffffff"/><stop offset="0.4" stop-color="#cfdae0"/><stop offset="1" stop-color="#8ea8b6"/></linearGradient>
<linearGradient id="c2t" gradientUnits="userSpaceOnUse" x1="400" y1="450" x2="760" y2="270"><stop offset="0" stop-color="#f3f6f7"/><stop offset="0.5" stop-color="#c9d5db"/><stop offset="1" stop-color="#a9bdc9"/></linearGradient></defs><path d="M330,280 Q230,340 170,430 Q140,500 200,540 L260,560 L600,260 Q560,200 480,215 Z" fill="#b5c6d0" stroke="#0e1820" stroke-width="12" stroke-linejoin="round" stroke-linecap="round" />
<path d="M345,295 Q250,350 200,435 Q180,490 215,525" fill="none" stroke="#0e1820" stroke-width="6" stroke-linejoin="round" stroke-linecap="round" />
<path d="M345,300 L490,240 Q540,235 565,265" fill="none" stroke="#0e1820" stroke-width="6" stroke-linejoin="round" stroke-linecap="round" />
<path d="M250,560 Q250,470 330,420 L640,240 Q660,230 680,240 L830,325 Q850,345 845,380 L830,480 L735,545 L735,610 L545,715 L500,690 L450,700 L410,680 L330,630 L260,600 Z" fill="#a9bdc9" stroke="#0e1820" stroke-width="13" stroke-linejoin="round" stroke-linecap="round" />
<path d="M255,585 Q250,470 330,420 L600,265 L830,340 L560,470 Q440,530 420,640 L410,680 L330,630 Z" fill="url(#c2b)" stroke="#0e1820" stroke-width="7" stroke-linejoin="round" stroke-linecap="round" />
<path d="M330,420 L640,240 Q660,230 680,240 L830,325 L560,470 Z" fill="url(#c2t)" stroke="#0e1820" stroke-width="7" stroke-linejoin="round" stroke-linecap="round" />
<path d="M420,650 Q420,560 520,500 L780,350 Q835,335 845,380 L830,480 L560,640 Q470,700 430,680 Z" fill="#dfe6ea" stroke="#0e1820" stroke-width="8" stroke-linejoin="round" stroke-linecap="round" />
<path d="M450,640 Q450,585 530,540 L750,410 Q800,395 800,440 L785,470 L545,610 Q470,650 450,640 Z" fill="#6d8b9c" stroke="#0e1820" stroke-width="7" stroke-linejoin="round" stroke-linecap="round" />
<path d="M477,578 L503,578 M490,566 L490,590 M477,616 L501,616 M489,606 L489,626" fill="none" stroke="#14212a" stroke-width="8" stroke-linejoin="round" stroke-linecap="round" />
<path d="M535,541 L561,541 M548,529 L548,553 M535,579 L559,579 M547,569 L547,589" fill="none" stroke="#14212a" stroke-width="8" stroke-linejoin="round" stroke-linecap="round" />
<path d="M593,504 L619,504 M606,492 L606,516 M593,542 L617,542 M605,532 L605,552" fill="none" stroke="#14212a" stroke-width="8" stroke-linejoin="round" stroke-linecap="round" />
<path d="M651,467 L677,467 M664,455 L664,479 M651,505 L675,505 M663,495 L663,515" fill="none" stroke="#14212a" stroke-width="8" stroke-linejoin="round" stroke-linecap="round" />
<path d="M709,430 L735,430 M722,418 L722,442 M709,468 L733,468 M721,458 L721,478" fill="none" stroke="#14212a" stroke-width="8" stroke-linejoin="round" stroke-linecap="round" />
<path d="M545,640 L700,545 L735,545 L735,610 L545,715 L500,690 L520,655 Z" fill="#d5dee3" stroke="#0e1820" stroke-width="8" stroke-linejoin="round" stroke-linecap="round" />
<path d="M545,640 L545,715 Z" fill="none" stroke="#0e1820" stroke-width="6" stroke-linejoin="round" stroke-linecap="round" />
<path d="M250,560 Q250,470 330,420 L640,240 Q660,230 680,240 L830,325 Q850,345 845,380 L830,480 L735,545 L735,610 L545,715 L500,690 L450,700 L410,680 L330,630 L260,600 Z" fill="none" stroke="#0e1820" stroke-width="14" stroke-linejoin="round" stroke-linecap="round" /></g></g>
<g id="conn6"><g transform="translate(430.00,480.00) scale(0.09074,0.09074)"><defs><linearGradient id="c6b" gradientUnits="userSpaceOnUse" x1="420" y1="380" x2="360" y2="620"><stop offset="0" stop-color="#e6ecef"/><stop offset="0.45" stop-color="#b9c9d2"/><stop offset="1" stop-color="#7391a3"/></linearGradient></defs><path d="M262,338 Q305,288 385,265 Q445,255 472,300 L482,332 L335,562 L252,540 Q200,500 215,430 Q225,380 262,338 Z" fill="#6f8c9e" stroke="#0e1820" stroke-width="15" stroke-linejoin="round" stroke-linecap="round" />
<path d="M290,390 Q335,325 425,303 L470,330 L350,520 L275,520 Q255,450 290,390 Z" fill="#dce4e9" stroke="#0e1820" stroke-width="9" stroke-linejoin="round" stroke-linecap="round" />
<path d="M340,470 Q360,380 470,335 L520,322 L672,400 Q692,420 687,470 L682,500 L742,540 Q752,570 737,612 L700,652 L600,692 L560,692 L520,722 L480,727 L460,702 L410,692 L318,642 L308,600 Z" fill="#a9bdc9" stroke="#0e1820" stroke-width="15" stroke-linejoin="round" stroke-linecap="round" />
<path d="M340,470 Q360,380 470,335 Q430,420 470,480 L470,620 L440,650 L320,600 Z" fill="url(#c6b)" stroke="#0e1820" stroke-width="9" stroke-linejoin="round" stroke-linecap="round" />
<path d="M470,335 L520,322 L672,400 L687,470 L600,430 L500,400 L460,430 Z" fill="#b9c9d2" stroke="#0e1820" stroke-width="9" stroke-linejoin="round" stroke-linecap="round" />
<path d="M465,425 L500,395 L600,430 L560,470 L490,520 L470,480 Z" fill="#e6ecef" stroke="#0e1820" stroke-width="8" stroke-linejoin="round" stroke-linecap="round" />
<path d="M500,395 L560,450 L640,425" fill="none" stroke="#0e1820" stroke-width="7" stroke-linejoin="round" stroke-linecap="round" />
<path d="M470,480 L470,620 Z" fill="none" stroke="#0e1820" stroke-width="8" stroke-linejoin="round" stroke-linecap="round" />
<path d="M500,560 Q500,520 540,500 L620,470 L742,540 Q752,570 737,612 L700,652 L640,672 Q610,640 610,600 L500,600 Z" fill="#e3e9ed" stroke="#0e1820" stroke-width="9" stroke-linejoin="round" stroke-linecap="round" />
<path d="M530,520 L580,495 L620,515 L570,545 Z" fill="#c9d5db" stroke="#0e1820" stroke-width="6" stroke-linejoin="round" stroke-linecap="round" />
<path d="M625,642 Q605,600 640,580 L712,550 Q747,560 737,612 L700,652 L650,667 Z" fill="#7f9bab" stroke="#0e1820" stroke-width="9" stroke-linejoin="round" stroke-linecap="round" />
<path d="M655,608 L667,628 M700,583 L712,603 M652,625 L668,612 M698,600 L714,587" fill="none" stroke="#14212a" stroke-width="6" stroke-linejoin="round" stroke-linecap="round" />
<path d="M318,600 L440,650 L440,692 L410,692 L318,642 Z" fill="#8aa5b5" stroke="#0e1820" stroke-width="8" stroke-linejoin="round" stroke-linecap="round" />
<path d="M460,640 L520,660 L560,650 L600,692 L560,692 L520,722 L480,727 L460,702 Z" fill="#6f8c9e" stroke="#0e1820" stroke-width="8" stroke-linejoin="round" stroke-linecap="round" />
<path d="M340,470 Q360,380 470,335 L520,322 L672,400 Q692,420 687,470 L682,500 L742,540 Q752,570 737,612 L700,652 L600,692 L560,692 L520,722 L480,727 L460,702 L410,692 L318,642 L308,600 Z" fill="none" stroke="#0e1820" stroke-width="15" stroke-linejoin="round" stroke-linecap="round" /></g></g>
<g id="conn20"><g transform="translate(318.94,829.55) scale(-0.09074,0.09074)"><defs><linearGradient id="c20b" gradientUnits="userSpaceOnUse" x1="420" y1="380" x2="360" y2="620"><stop offset="0" stop-color="#e6ecef"/><stop offset="0.45" stop-color="#b9c9d2"/><stop offset="1" stop-color="#7391a3"/></linearGradient></defs><path d="M262,338 Q305,288 385,265 Q445,255 472,300 L482,332 L335,562 L252,540 Q200,500 215,430 Q225,380 262,338 Z" fill="#6f8c9e" stroke="#0e1820" stroke-width="15" stroke-linejoin="round" stroke-linecap="round" />
<path d="M290,390 Q335,325 425,303 L470,330 L350,520 L275,520 Q255,450 290,390 Z" fill="#dce4e9" stroke="#0e1820" stroke-width="9" stroke-linejoin="round" stroke-linecap="round" />
<path d="M340,470 Q360,380 470,335 L520,322 L672,400 Q692,420 687,470 L682,500 L742,540 Q752,570 737,612 L700,652 L600,692 L560,692 L520,722 L480,727 L460,702 L410,692 L318,642 L308,600 Z" fill="#a9bdc9" stroke="#0e1820" stroke-width="15" stroke-linejoin="round" stroke-linecap="round" />
<path d="M340,470 Q360,380 470,335 Q430,420 470,480 L470,620 L440,650 L320,600 Z" fill="url(#c20b)" stroke="#0e1820" stroke-width="9" stroke-linejoin="round" stroke-linecap="round" />
<path d="M470,335 L520,322 L672,400 L687,470 L600,430 L500,400 L460,430 Z" fill="#b9c9d2" stroke="#0e1820" stroke-width="9" stroke-linejoin="round" stroke-linecap="round" />
<path d="M465,425 L500,395 L600,430 L560,470 L490,520 L470,480 Z" fill="#e6ecef" stroke="#0e1820" stroke-width="8" stroke-linejoin="round" stroke-linecap="round" />
<path d="M500,395 L560,450 L640,425" fill="none" stroke="#0e1820" stroke-width="7" stroke-linejoin="round" stroke-linecap="round" />
<path d="M470,480 L470,620 Z" fill="none" stroke="#0e1820" stroke-width="8" stroke-linejoin="round" stroke-linecap="round" />
<path d="M500,560 Q500,520 540,500 L620,470 L742,540 Q752,570 737,612 L700,652 L640,672 Q610,640 610,600 L500,600 Z" fill="#e3e9ed" stroke="#0e1820" stroke-width="9" stroke-linejoin="round" stroke-linecap="round" />
<path d="M530,520 L580,495 L620,515 L570,545 Z" fill="#c9d5db" stroke="#0e1820" stroke-width="6" stroke-linejoin="round" stroke-linecap="round" />
<path d="M625,642 Q605,600 640,580 L712,550 Q747,560 737,612 L700,652 L650,667 Z" fill="#7f9bab" stroke="#0e1820" stroke-width="9" stroke-linejoin="round" stroke-linecap="round" />
<path d="M655,608 L667,628 M700,583 L712,603 M652,625 L668,612 M698,600 L714,587" fill="none" stroke="#14212a" stroke-width="6" stroke-linejoin="round" stroke-linecap="round" />
<path d="M318,600 L440,650 L440,692 L410,692 L318,642 Z" fill="#8aa5b5" stroke="#0e1820" stroke-width="8" stroke-linejoin="round" stroke-linecap="round" />
<path d="M460,640 L520,660 L560,650 L600,692 L560,692 L520,722 L480,727 L460,702 Z" fill="#6f8c9e" stroke="#0e1820" stroke-width="8" stroke-linejoin="round" stroke-linecap="round" />
<path d="M340,470 Q360,380 470,335 L520,322 L672,400 Q692,420 687,470 L682,500 L742,540 Q752,570 737,612 L700,652 L600,692 L560,692 L520,722 L480,727 L460,702 L410,692 L318,642 L308,600 Z" fill="none" stroke="#0e1820" stroke-width="15" stroke-linejoin="round" stroke-linecap="round" /></g></g>
<g id="term8r"><g transform="translate(850.00,210.00) scale(0.10081,0.10081)"><defs><linearGradient id="t1b" gradientUnits="userSpaceOnUse" x1="300" y1="510" x2="250" y2="630"><stop offset="0" stop-color="#c9d5db"/><stop offset="0.35" stop-color="#ffffff"/><stop offset="0.7" stop-color="#b9c9d2"/><stop offset="1" stop-color="#7f9bab"/></linearGradient></defs><path d="M330,745 L350,720 L480,650 L760,800 Q785,820 772,858 Q730,912 640,905 L620,900 Z" fill="#7f9bab" stroke="#0e1820" stroke-width="12" stroke-linejoin="round" stroke-linecap="round" />
<path d="M340,730 L480,652 L755,800 Q775,820 762,845 Q720,890 640,885 Z" fill="#d3dce1" stroke="#0e1820" stroke-width="6" stroke-linejoin="round" stroke-linecap="round" />
<ellipse cx="650" cy="820" rx="50" ry="28" fill="#ffffff" stroke="#0e1820" stroke-width="9"/>
<path d="M345,540 L420,580 L480,650 L350,722 L325,735 L315,700 L335,670 Z" fill="#7d99aa" stroke="#0e1820" stroke-width="11" stroke-linejoin="round" stroke-linecap="round" />
<path d="M350,560 Q375,640 360,715" fill="none" stroke="#0e1820" stroke-width="7" stroke-linejoin="round" stroke-linecap="round" />
<path d="M350,560 Q330,640 335,720" fill="none" stroke="#dfe7eb" stroke-width="5" stroke-linejoin="round" stroke-linecap="round" />
<path d="M240,497 L272,490 L348,535 Q325,600 335,670 L215,600 Q195,570 210,540 Z" fill="url(#t1b)" stroke="#0e1820" stroke-width="11" stroke-linejoin="round" stroke-linecap="round" /></g></g>
<g id="term8l"><g transform="translate(184.46,519.96) scale(-0.10081,0.10081)"><defs><linearGradient id="t2b" gradientUnits="userSpaceOnUse" x1="300" y1="510" x2="250" y2="630"><stop offset="0" stop-color="#c9d5db"/><stop offset="0.35" stop-color="#ffffff"/><stop offset="0.7" stop-color="#b9c9d2"/><stop offset="1" stop-color="#7f9bab"/></linearGradient></defs><path d="M330,745 L350,720 L480,650 L760,800 Q785,820 772,858 Q730,912 640,905 L620,900 Z" fill="#7f9bab" stroke="#0e1820" stroke-width="12" stroke-linejoin="round" stroke-linecap="round" />
<path d="M340,730 L480,652 L755,800 Q775,820 762,845 Q720,890 640,885 Z" fill="#d3dce1" stroke="#0e1820" stroke-width="6" stroke-linejoin="round" stroke-linecap="round" />
<ellipse cx="650" cy="820" rx="50" ry="28" fill="#ffffff" stroke="#0e1820" stroke-width="9"/>
<path d="M345,540 L420,580 L480,650 L350,722 L325,735 L315,700 L335,670 Z" fill="#7d99aa" stroke="#0e1820" stroke-width="11" stroke-linejoin="round" stroke-linecap="round" />
<path d="M350,560 Q375,640 360,715" fill="none" stroke="#0e1820" stroke-width="7" stroke-linejoin="round" stroke-linecap="round" />
<path d="M350,560 Q330,640 335,720" fill="none" stroke="#dfe7eb" stroke-width="5" stroke-linejoin="round" stroke-linecap="round" />
<path d="M240,497 L272,490 L348,535 Q325,600 335,670 L215,600 Q195,570 210,540 Z" fill="url(#t2b)" stroke="#0e1820" stroke-width="11" stroke-linejoin="round" stroke-linecap="round" /></g></g>
<g id="term21a"><g transform="translate(542.00,1046.00) scale(0.10081,0.10081)"><defs><linearGradient id="t3b" gradientUnits="userSpaceOnUse" x1="300" y1="510" x2="250" y2="630"><stop offset="0" stop-color="#c9d5db"/><stop offset="0.35" stop-color="#ffffff"/><stop offset="0.7" stop-color="#b9c9d2"/><stop offset="1" stop-color="#7f9bab"/></linearGradient></defs><path d="M330,745 L350,720 L480,650 L760,800 Q785,820 772,858 Q730,912 640,905 L620,900 Z" fill="#7f9bab" stroke="#0e1820" stroke-width="12" stroke-linejoin="round" stroke-linecap="round" />
<path d="M340,730 L480,652 L755,800 Q775,820 762,845 Q720,890 640,885 Z" fill="#d3dce1" stroke="#0e1820" stroke-width="6" stroke-linejoin="round" stroke-linecap="round" />
<ellipse cx="650" cy="820" rx="50" ry="28" fill="#ffffff" stroke="#0e1820" stroke-width="9"/>
<path d="M345,540 L420,580 L480,650 L350,722 L325,735 L315,700 L335,670 Z" fill="#7d99aa" stroke="#0e1820" stroke-width="11" stroke-linejoin="round" stroke-linecap="round" />
<path d="M350,560 Q375,640 360,715" fill="none" stroke="#0e1820" stroke-width="7" stroke-linejoin="round" stroke-linecap="round" />
<path d="M350,560 Q330,640 335,720" fill="none" stroke="#dfe7eb" stroke-width="5" stroke-linejoin="round" stroke-linecap="round" />
<path d="M240,497 L272,490 L348,535 Q325,600 335,670 L215,600 Q195,570 210,540 Z" fill="url(#t3b)" stroke="#0e1820" stroke-width="11" stroke-linejoin="round" stroke-linecap="round" /></g></g>
<g id="term21b"><g transform="translate(727.20,939.10) scale(0.10081,0.10081)"><defs><linearGradient id="t4b" gradientUnits="userSpaceOnUse" x1="300" y1="510" x2="250" y2="630"><stop offset="0" stop-color="#c9d5db"/><stop offset="0.35" stop-color="#ffffff"/><stop offset="0.7" stop-color="#b9c9d2"/><stop offset="1" stop-color="#7f9bab"/></linearGradient></defs><path d="M330,745 L350,720 L480,650 L760,800 Q785,820 772,858 Q730,912 640,905 L620,900 Z" fill="#7f9bab" stroke="#0e1820" stroke-width="12" stroke-linejoin="round" stroke-linecap="round" />
<path d="M340,730 L480,652 L755,800 Q775,820 762,845 Q720,890 640,885 Z" fill="#d3dce1" stroke="#0e1820" stroke-width="6" stroke-linejoin="round" stroke-linecap="round" />
<ellipse cx="650" cy="820" rx="50" ry="28" fill="#ffffff" stroke="#0e1820" stroke-width="9"/>
<path d="M345,540 L420,580 L480,650 L350,722 L325,735 L315,700 L335,670 Z" fill="#7d99aa" stroke="#0e1820" stroke-width="11" stroke-linejoin="round" stroke-linecap="round" />
<path d="M350,560 Q375,640 360,715" fill="none" stroke="#0e1820" stroke-width="7" stroke-linejoin="round" stroke-linecap="round" />
<path d="M350,560 Q330,640 335,720" fill="none" stroke="#dfe7eb" stroke-width="5" stroke-linejoin="round" stroke-linecap="round" />
<path d="M240,497 L272,490 L348,535 Q325,600 335,670 L215,600 Q195,570 210,540 Z" fill="url(#t4b)" stroke="#0e1820" stroke-width="11" stroke-linejoin="round" stroke-linecap="round" /></g></g>
<line x1="915.3" y1="261" x2="915.3" y2="292.7" stroke="#8aa4b4" stroke-width="1.4"/>
<line x1="607.5" y1="1098" x2="607.5" y2="1128.7" stroke="#8aa4b4" stroke-width="1.4"/>
<line x1="118.9" y1="549" x2="118.9" y2="602.8" stroke="#8aa4b4" stroke-width="1.4" stroke-dasharray="7 2.5 9 2.5 40"/>
<line x1="792.6" y1="990" x2="792.6" y2="1022" stroke="#8aa4b4" stroke-width="1.4"/>
<line x1="519.6" y1="624.5" x2="519.6" y2="632" stroke="#8aa4b4" stroke-width="1.4"/>
<line x1="519.6" y1="648" x2="519.6" y2="667" stroke="#8aa4b4" stroke-width="1.4"/>
<g id="screw10"><g transform="translate(850.00,210.00) scale(0.10081,0.10081)"><defs><linearGradient id="s10s" gradientUnits="userSpaceOnUse" x1="612" y1="0" x2="690" y2="0"><stop offset="0" stop-color="#7f9bab"/><stop offset="0.45" stop-color="#f3f6f7"/><stop offset="1" stop-color="#6d8b9c"/></linearGradient>
<linearGradient id="s10s2" gradientUnits="userSpaceOnUse" x1="582" y1="0" x2="720" y2="0"><stop offset="0" stop-color="#7f9bab"/><stop offset="0.45" stop-color="#f3f6f7"/><stop offset="1" stop-color="#6d8b9c"/></linearGradient></defs><path d="M612,280 L612,490 Q650,520 690,490 L690,280 Z" fill="url(#s10s)" stroke="#0e1820" stroke-width="11" stroke-linejoin="round" stroke-linecap="round" />
<path d="M620,370 Q650,384 686,366" fill="none" stroke="#0e1820" stroke-width="7" stroke-linejoin="round" stroke-linecap="round" />
<path d="M620,400 Q650,414 686,396" fill="none" stroke="#0e1820" stroke-width="7" stroke-linejoin="round" stroke-linecap="round" />
<path d="M620,430 Q650,444 686,426" fill="none" stroke="#0e1820" stroke-width="7" stroke-linejoin="round" stroke-linecap="round" />
<path d="M620,460 Q650,474 686,456" fill="none" stroke="#0e1820" stroke-width="7" stroke-linejoin="round" stroke-linecap="round" />
<path d="M582,185 L582,255 Q650,300 720,255 L720,185 Q650,140 582,185 Z" fill="url(#s10s2)" stroke="#0e1820" stroke-width="12" stroke-linejoin="round" stroke-linecap="round" />
<ellipse cx="651" cy="187" rx="68" ry="32" fill="#c9d5db" stroke="#0e1820" stroke-width="10"/>
<ellipse cx="651" cy="187" rx="36" ry="17" fill="#eef2f4" stroke="#0e1820" stroke-width="8"/>
<path d="M640,180 L662,195 M662,180 L640,195" fill="none" stroke="#0e1820" stroke-width="6" stroke-linejoin="round" stroke-linecap="round" /></g></g>
<g id="screw23"><g transform="translate(542.00,1046.05) scale(0.10081,0.10081)"><defs><linearGradient id="s23s" gradientUnits="userSpaceOnUse" x1="612" y1="0" x2="690" y2="0"><stop offset="0" stop-color="#7f9bab"/><stop offset="0.45" stop-color="#f3f6f7"/><stop offset="1" stop-color="#6d8b9c"/></linearGradient>
<linearGradient id="s23s2" gradientUnits="userSpaceOnUse" x1="582" y1="0" x2="720" y2="0"><stop offset="0" stop-color="#7f9bab"/><stop offset="0.45" stop-color="#f3f6f7"/><stop offset="1" stop-color="#6d8b9c"/></linearGradient></defs><path d="M612,280 L612,490 Q650,520 690,490 L690,280 Z" fill="url(#s23s)" stroke="#0e1820" stroke-width="11" stroke-linejoin="round" stroke-linecap="round" />
<path d="M620,370 Q650,384 686,366" fill="none" stroke="#0e1820" stroke-width="7" stroke-linejoin="round" stroke-linecap="round" />
<path d="M620,400 Q650,414 686,396" fill="none" stroke="#0e1820" stroke-width="7" stroke-linejoin="round" stroke-linecap="round" />
<path d="M620,430 Q650,444 686,426" fill="none" stroke="#0e1820" stroke-width="7" stroke-linejoin="round" stroke-linecap="round" />
<path d="M620,460 Q650,474 686,456" fill="none" stroke="#0e1820" stroke-width="7" stroke-linejoin="round" stroke-linecap="round" />
<path d="M582,185 L582,255 Q650,300 720,255 L720,185 Q650,140 582,185 Z" fill="url(#s23s2)" stroke="#0e1820" stroke-width="12" stroke-linejoin="round" stroke-linecap="round" />
<ellipse cx="651" cy="187" rx="68" ry="32" fill="#c9d5db" stroke="#0e1820" stroke-width="10"/>
<ellipse cx="651" cy="187" rx="36" ry="17" fill="#eef2f4" stroke="#0e1820" stroke-width="8"/>
<path d="M640,180 L662,195 M662,180 L640,195" fill="none" stroke="#0e1820" stroke-width="6" stroke-linejoin="round" stroke-linecap="round" /></g></g>
<g id="screw11"><g transform="translate(90.00,500.00) scale(0.10081,0.10081)"><defs><linearGradient id="s11s" gradientUnits="userSpaceOnUse" x1="235" y1="0" x2="335" y2="0"><stop offset="0" stop-color="#7f9bab"/><stop offset="0.45" stop-color="#f3f6f7"/><stop offset="1" stop-color="#6d8b9c"/></linearGradient>
<linearGradient id="s11h" gradientUnits="userSpaceOnUse" x1="185" y1="0" x2="390" y2="0"><stop offset="0" stop-color="#93acba"/><stop offset="0.45" stop-color="#e6ecef"/><stop offset="1" stop-color="#7f9bab"/></linearGradient></defs><path d="M235,300 L235,465 Q285,500 335,465 L335,300 Z" fill="url(#s11s)" stroke="#0e1820" stroke-width="11" stroke-linejoin="round" stroke-linecap="round" />
<path d="M245,360 Q285,376 330,358" fill="none" stroke="#0e1820" stroke-width="7" stroke-linejoin="round" stroke-linecap="round" />
<path d="M245,400 Q285,416 330,398" fill="none" stroke="#0e1820" stroke-width="7" stroke-linejoin="round" stroke-linecap="round" />
<path d="M245,440 Q285,456 330,438" fill="none" stroke="#0e1820" stroke-width="7" stroke-linejoin="round" stroke-linecap="round" />
<path d="M185,230 Q180,170 240,155 Q290,140 345,160 Q395,185 390,250 Q380,290 330,300 Q280,310 225,295 Q185,275 185,230 Z" fill="url(#s11h)" stroke="#0e1820" stroke-width="12" stroke-linejoin="round" stroke-linecap="round" />
<path d="M195,240 Q280,290 385,245" fill="none" stroke="#0e1820" stroke-width="7" stroke-linejoin="round" stroke-linecap="round" />
<ellipse cx="288" cy="205" rx="62" ry="34" fill="#eef2f4" stroke="#0e1820" stroke-width="8"/>
<path d="M270,180 L270,230 M305,180 L305,230 M245,205 L330,205" fill="none" stroke="#3a4f5d" stroke-width="7" stroke-linejoin="round" stroke-linecap="round" /></g></g>
<g id="screw24"><g transform="translate(760.00,900.00) scale(0.16129,0.16129)"><defs><linearGradient id="s24s" gradientUnits="userSpaceOnUse" x1="168" y1="0" x2="240" y2="0"><stop offset="0" stop-color="#7f9bab"/><stop offset="0.45" stop-color="#f3f6f7"/><stop offset="1" stop-color="#6d8b9c"/></linearGradient>
<linearGradient id="s24h" gradientUnits="userSpaceOnUse" x1="147" y1="0" x2="262" y2="0"><stop offset="0" stop-color="#93acba"/><stop offset="0.4" stop-color="#e6ecef"/><stop offset="1" stop-color="#7f9bab"/></linearGradient></defs><path d="M168,385 L168,500 L203,556 L240,500 L240,385 Z" fill="url(#s24s)" stroke="#0e1820" stroke-width="8" stroke-linejoin="round" stroke-linecap="round" />
<path d="M170,420 Q205,432 240,414" fill="none" stroke="#0e1820" stroke-width="5" stroke-linejoin="round" stroke-linecap="round" />
<path d="M170,450 Q205,462 240,444" fill="none" stroke="#0e1820" stroke-width="5" stroke-linejoin="round" stroke-linecap="round" />
<path d="M170,480 Q205,492 240,474" fill="none" stroke="#0e1820" stroke-width="5" stroke-linejoin="round" stroke-linecap="round" />
<path d="M170,510 Q205,522 240,504" fill="none" stroke="#0e1820" stroke-width="5" stroke-linejoin="round" stroke-linecap="round" />
<path d="M138,360 Q140,385 205,390 Q268,388 270,365 Q262,345 205,345 Q145,345 138,360 Z" fill="#b9c9d2" stroke="#0e1820" stroke-width="8" stroke-linejoin="round" stroke-linecap="round" />
<path d="M147,352 L147,312 L170,295 L235,295 L262,318 L262,355 Q205,372 147,352 Z" fill="url(#s24h)" stroke="#0e1820" stroke-width="8" stroke-linejoin="round" stroke-linecap="round" />
<path d="M147,312 L190,325 L262,318 M190,325 L190,362" fill="none" stroke="#0e1820" stroke-width="5" stroke-linejoin="round" stroke-linecap="round" /></g></g>
<g id="clip22"><g transform="translate(760.00,900.00) scale(0.16129,0.16129)"><path d="M685,95 L725,70 L840,130 L850,160 L880,160 L925,185 L925,215 L880,240 L850,230 L830,235 L835,280 L800,310 L775,280 L770,240 L740,220 L730,235 L690,230 Z" fill="#7f9bab" stroke="#0e1820" stroke-width="8" stroke-linejoin="round" stroke-linecap="round" />
<path d="M700,100 L725,85 L835,140 L810,155 Z" fill="#c9d5db" stroke="#0e1820" stroke-width="5" stroke-linejoin="round" stroke-linecap="round" />
<path d="M700,112 L810,168 L810,190 L720,150 L720,225 L700,222 Z" fill="#5f7e90" stroke="#0e1820" stroke-width="5" stroke-linejoin="round" stroke-linecap="round" />
<path d="M735,210 Q730,170 770,170 L850,205 L850,228 L830,235 Z" fill="#e6ecef" stroke="#0e1820" stroke-width="5" stroke-linejoin="round" stroke-linecap="round" />
<path d="M850,165 L880,160 L925,185 L895,195 Z" fill="#c9d5db" stroke="#0e1820" stroke-width="5" stroke-linejoin="round" stroke-linecap="round" />
<path d="M895,195 L925,185 L925,215 L880,240 L880,205 Z" fill="#93acba" stroke="#0e1820" stroke-width="5" stroke-linejoin="round" stroke-linecap="round" />
<path d="M772,240 L830,235 L835,280 L800,310 L775,280 Z" fill="#b9c9d2" stroke="#0e1820" stroke-width="6" stroke-linejoin="round" stroke-linecap="round" />
<path d="M790,245 L795,290 M812,240 L815,285" fill="none" stroke="#0e1820" stroke-width="4" stroke-linejoin="round" stroke-linecap="round" /></g></g>
<g id="bracket12"><g transform="translate(490.00,610.00) scale(0.14112,0.14112)"><path d="M125,430 Q130,380 180,365 L330,345 L380,300 L410,265 L440,260 L490,290 L510,330 L520,370 L590,430 L605,470 L610,540 L630,570 L650,500 L700,480 L730,440 L690,410 L720,390 L780,410 L790,450 L840,470 L880,470 L900,500 L870,540 L780,590 L740,650 L700,670 L650,680 L620,690 L600,700 L420,840 L380,830 L290,780 L280,700 L245,690 L240,640 L170,580 L160,550 L190,510 L130,450 Z" fill="#7391a3" stroke="#0e1820" stroke-width="12" stroke-linejoin="round" stroke-linecap="round" />
<path d="M130,430 Q135,385 180,370 L330,350 L215,470 L190,505 Z" fill="#c9d5db" stroke="#0e1820" stroke-width="8" stroke-linejoin="round" stroke-linecap="round" />
<ellipse cx="212" cy="410" rx="38" ry="22" fill="#e6ecef" stroke="#0e1820" stroke-width="8"/>
<path d="M215,470 L370,370 L370,450 L215,560 Z" fill="#6a8899" stroke="#0e1820" stroke-width="8" stroke-linejoin="round" stroke-linecap="round" />
<path d="M370,370 L410,270 L440,262 L430,330 L420,440 L370,450 Z" fill="#a9bdc9" stroke="#0e1820" stroke-width="8" stroke-linejoin="round" stroke-linecap="round" />
<path d="M440,262 L490,290 L510,330 L470,330 L450,440 L420,440 L430,330 Z" fill="#6a8899" stroke="#0e1820" stroke-width="8" stroke-linejoin="round" stroke-linecap="round" />
<path d="M165,550 L215,560 L370,450 L450,440 L540,520 L545,600 L470,640 L375,715 L355,790 L290,780 L285,640 L245,600 Z" fill="#9fb4c0" stroke="#0e1820" stroke-width="10" stroke-linejoin="round" stroke-linecap="round" />
<path d="M470,330 L520,370 L590,430 L605,470 L610,540 L545,600 L540,520 L490,470 L450,440 Z" fill="#7f9bab" stroke="#0e1820" stroke-width="8" stroke-linejoin="round" stroke-linecap="round" />
<path d="M440,450 L480,435 L500,460 L460,480 Z" fill="#dfe6ea" stroke="#0e1820" stroke-width="7" stroke-linejoin="round" stroke-linecap="round" />
<path d="M255,565 L395,485 L465,560 L455,645 L375,705 L355,615 L300,590 Z" fill="#ffffff" stroke="#0e1820" stroke-width="9" stroke-linejoin="round" stroke-linecap="round" />
<path d="M395,485 L440,540 L455,645 L465,560 Z" fill="#5f7e90" stroke="#0e1820" stroke-width="7" stroke-linejoin="round" stroke-linecap="round" />
<path d="M300,590 L355,615 L375,705 L290,650 Z" fill="#7391a3" stroke="#0e1820" stroke-width="7" stroke-linejoin="round" stroke-linecap="round" />
<path d="M355,790 L375,715 L470,640 L545,600 L610,540 L630,570 L620,690 L600,700 L420,840 L380,830 Z" fill="#93acba" stroke="#0e1820" stroke-width="8" stroke-linejoin="round" stroke-linecap="round" />
<path d="M330,770 L420,800 L620,670" fill="none" stroke="#0e1820" stroke-width="7" stroke-linejoin="round" stroke-linecap="round" />
<ellipse cx="575" cy="642" rx="26" ry="18" fill="#ffffff" stroke="#0e1820" stroke-width="8"/>
<path d="M650,500 L700,480 L730,440 L690,410 L720,390 L780,410 L790,450 L840,470 L880,470 L900,500 L870,540 L780,590 L740,650 L700,670 L650,680 L620,690 L630,570 Z" fill="#8ea8b6" stroke="#0e1820" stroke-width="9" stroke-linejoin="round" stroke-linecap="round" />
<path d="M720,390 L780,410 L790,450 L760,520 L730,440 Z" fill="#c9d5db" stroke="#0e1820" stroke-width="7" stroke-linejoin="round" stroke-linecap="round" />
<path d="M790,450 L840,470 L880,470 L900,500 L870,540 L800,520 Z" fill="#b9c9d2" stroke="#0e1820" stroke-width="7" stroke-linejoin="round" stroke-linecap="round" />
<path d="M650,500 L700,480 L720,560 L660,590 Z" fill="#a9bdc9" stroke="#0e1820" stroke-width="7" stroke-linejoin="round" stroke-linecap="round" />
<path d="M630,600 L740,560 M660,590 L660,680 M700,570 L700,670 M740,560 L740,650" fill="none" stroke="#0e1820" stroke-width="7" stroke-linejoin="round" stroke-linecap="round" />
<path d="M125,430 Q130,380 180,365 L330,345 L380,300 L410,265 L440,260 L490,290 L510,330 L520,370 L590,430 L605,470 L610,540 L630,570 L650,500 L700,480 L730,440 L690,410 L720,390 L780,410 L790,450 L840,470 L880,470 L900,500 L870,540 L780,590 L740,650 L700,670 L650,680 L620,690 L600,700 L420,840 L380,830 L290,780 L280,700 L245,690 L240,640 L170,580 L160,550 L190,510 L130,450 Z" fill="none" stroke="#0e1820" stroke-width="13" stroke-linejoin="round" stroke-linecap="round" />
<ellipse cx="213" cy="208" rx="72" ry="40" fill="#8ea8b6" stroke="#0e1820" stroke-width="13"/>
<path d="M160,180 L175,145 L215,130 L255,140 L270,175 L265,205 L215,225 L165,210 Z" fill="#a9bdc9" stroke="#0e1820" stroke-width="11" stroke-linejoin="round" stroke-linecap="round" />
<ellipse cx="214" cy="168" rx="30" ry="18" fill="#e3e9ed" stroke="#0e1820" stroke-width="9"/>
<path d="M185,195 L185,215 M245,195 L245,213" fill="none" stroke="#0e1820" stroke-width="7" stroke-linejoin="round" stroke-linecap="round" /></g></g>
<g id="leaders">
<line x1="170.8" y1="250" x2="170.8" y2="269.5" stroke="#0b1116" stroke-width="1.7"/>
<line x1="384" y1="247.8" x2="419.5" y2="247.8" stroke="#0b1116" stroke-width="1.7"/>
<line x1="518.5" y1="175.2" x2="546.5" y2="175.2" stroke="#0b1116" stroke-width="1.7"/>
<line x1="895" y1="226.9" x2="910.5" y2="226.9" stroke="#0b1116" stroke-width="1.7"/>
<line x1="888.8" y1="284.6" x2="888.8" y2="311.3" stroke="#0b1116" stroke-width="1.7"/>
<line x1="736.2" y1="421.5" x2="769.5" y2="421.5" stroke="#0b1116" stroke-width="1.7"/>
<line x1="612.6" y1="417.5" x2="612.6" y2="442.5" stroke="#0b1116" stroke-width="1.7"/>
<line x1="477.4" y1="545.3" x2="477.4" y2="563.5" stroke="#0b1116" stroke-width="1.7"/>
<line x1="131.3" y1="521.7" x2="148" y2="521.7" stroke="#0b1116" stroke-width="1.7"/>
<line x1="144.6" y1="599.3" x2="144.6" y2="625" stroke="#0b1116" stroke-width="1.7"/>
<line x1="344.8" y1="609.5" x2="344.8" y2="631.5" stroke="#0b1116" stroke-width="1.7"/>
<line x1="494.2" y1="635.1" x2="511.2" y2="635.1" stroke="#0b1116" stroke-width="1.7"/>
<line x1="494.2" y1="685.9" x2="512.6" y2="685.9" stroke="#0b1116" stroke-width="1.7"/>
<line x1="300" y1="751.9" x2="324.5" y2="751.9" stroke="#0b1116" stroke-width="1.7"/>
<line x1="907" y1="828" x2="907" y2="851.8" stroke="#0b1116" stroke-width="1.7"/>
<line x1="232.2" y1="872.4" x2="256.8" y2="872.4" stroke="#0b1116" stroke-width="1.7"/>
<line x1="853.5" y1="924.5" x2="870.5" y2="924.5" stroke="#0b1116" stroke-width="1.7"/>
<line x1="802.3" y1="961.8" x2="817.7" y2="961.8" stroke="#0b1116" stroke-width="1.7"/>
<line x1="221" y1="977.3" x2="239" y2="977.3" stroke="#0b1116" stroke-width="1.7"/>
<line x1="767.2" y1="1013" x2="767.2" y2="1040.5" stroke="#0b1116" stroke-width="1.7"/>
<line x1="588.2" y1="1063.4" x2="601.5" y2="1063.4" stroke="#0b1116" stroke-width="1.7"/>
<line x1="580.5" y1="1120" x2="580.5" y2="1147.7" stroke="#0b1116" stroke-width="1.7"/>
<line x1="135.6" y1="1111.4" x2="135.6" y2="1132.8" stroke="#0b1116" stroke-width="1.7"/>
<line x1="668.3" y1="147" x2="668.3" y2="273" stroke="#0b1116" stroke-width="1.7"/>
<line x1="507.5" y1="798.7" x2="507.5" y2="973" stroke="#0b1116" stroke-width="1.7"/>
<path d="M648.8,157.6 L659.7,142.7 L743,142.7 L755.4,128.5 L767.6,142.7 L842.9,142.7 L854.5,157.6" fill="none" stroke="#0b1116" stroke-width="1.7" stroke-linejoin="miter"/>
<path d="M487.8,807.5 L500.3,792.8 L620,792.8 L632.2,778 L644,792.8 L766,792.8 L778.4,807.5" fill="none" stroke="#0b1116" stroke-width="1.7" stroke-linejoin="miter"/>
</g>
<g id="labels" style="filter:grayscale(1)">
<g transform="translate(756.3,124.5) scale(0.955,1.04)"><text x="-6.12" y="0" font-size="22" >1</text><rect x="-5.24" y="-3.52" width="4.36" height="5.28" fill="#fff"/><rect x="1.63" y="-3.52" width="4.18" height="5.28" fill="#fff"/></g>
<g transform="translate(172.7,243.7) scale(0.955,1.04)"><text x="-6.12" y="0" font-size="22" >3</text></g>
<g transform="translate(375.5,254.7) scale(0.955,1.04)"><text x="-6.12" y="0" font-size="22" >4</text></g>
<g transform="translate(510.5,183.5) scale(0.955,1.04)"><text x="-6.12" y="0" font-size="22" >5</text></g>
<g transform="translate(879,235) scale(0.955,1.04)"><text x="-12.24 0.00" y="0" font-size="22" >10</text><rect x="-11.36" y="-3.52" width="4.36" height="5.28" fill="#fff"/><rect x="-4.49" y="-3.52" width="4.18" height="5.28" fill="#fff"/></g>
<g transform="translate(889,330.3) scale(0.955,1.04)"><text x="-6.12" y="0" font-size="22" >8</text></g>
<g transform="translate(779,428) scale(0.955,1.04)"><text x="-6.12" y="0" font-size="22" >7</text></g>
<g transform="translate(613.6,412.5) scale(0.955,1.04)"><text x="-6.12" y="0" font-size="22" >9</text></g>
<g transform="translate(478.2,582) scale(0.955,1.04)"><text x="-6.12" y="0" font-size="22" >6</text></g>
<g transform="translate(160.0,528.7) scale(0.955,1.04)"><text x="-12.24 0.00" y="0" font-size="22" >11</text><rect x="-11.36" y="-3.52" width="4.36" height="5.28" fill="#fff"/><rect x="-4.49" y="-3.52" width="4.18" height="5.28" fill="#fff"/><rect x="0.88" y="-3.52" width="4.36" height="5.28" fill="#fff"/><rect x="7.74" y="-3.52" width="4.18" height="5.28" fill="#fff"/></g>
<g transform="translate(144.5,645) scale(0.955,1.04)"><text x="-6.12" y="0" font-size="22" >8</text></g>
<g transform="translate(345,653) scale(0.955,1.04)"><text x="-6.12" y="0" font-size="22" >2</text></g>
<g transform="translate(481.4,642.7) scale(0.955,1.04)"><text x="-12.24 0.00" y="0" font-size="22" >13</text><rect x="-11.36" y="-3.52" width="4.36" height="5.28" fill="#fff"/><rect x="-4.49" y="-3.52" width="4.18" height="5.28" fill="#fff"/></g>
<g transform="translate(481.4,694.3) scale(0.955,1.04)"><text x="-12.24 0.00" y="0" font-size="22" >12</text><rect x="-11.36" y="-3.52" width="4.36" height="5.28" fill="#fff"/><rect x="-4.49" y="-3.52" width="4.18" height="5.28" fill="#fff"/></g>
<g transform="translate(283.6,759.8) scale(0.955,1.04)"><text x="-12.24 0.00" y="0" font-size="22" >19</text><rect x="-11.36" y="-3.52" width="4.36" height="5.28" fill="#fff"/><rect x="-4.49" y="-3.52" width="4.18" height="5.28" fill="#fff"/></g>
<g transform="translate(631.9,774.7) scale(0.955,1.04)"><text x="-12.24 0.00" y="0" font-size="22" >15</text><rect x="-11.36" y="-3.52" width="4.36" height="5.28" fill="#fff"/><rect x="-4.49" y="-3.52" width="4.18" height="5.28" fill="#fff"/></g>
<g transform="translate(905.3,823.3) scale(0.955,1.04)"><text x="-12.24 0.00" y="0" font-size="22" >16</text><rect x="-11.36" y="-3.52" width="4.36" height="5.28" fill="#fff"/><rect x="-4.49" y="-3.52" width="4.18" height="5.28" fill="#fff"/></g>
<g transform="translate(214.8,880) scale(0.955,1.04)"><text x="-12.24 0.00" y="0" font-size="22" >20</text></g>
<g transform="translate(839.7,932.3) scale(0.955,1.04)"><text x="-12.24 0.00" y="0" font-size="22" >22</text></g>
<g transform="translate(833.6,968.5) scale(0.955,1.04)"><text x="-12.24 0.00" y="0" font-size="22" >24</text></g>
<g transform="translate(204.6,983.3) scale(0.955,1.04)"><text x="-12.24 0.00" y="0" font-size="22" >18</text><rect x="-11.36" y="-3.52" width="4.36" height="5.28" fill="#fff"/><rect x="-4.49" y="-3.52" width="4.18" height="5.28" fill="#fff"/></g>
<g transform="translate(767.5,1059.7) scale(0.955,1.04)"><text x="-12.24 0.00" y="0" font-size="22" >21</text><rect x="0.88" y="-3.52" width="4.36" height="5.28" fill="#fff"/><rect x="7.74" y="-3.52" width="4.18" height="5.28" fill="#fff"/></g>
<g transform="translate(574,1071.2) scale(0.955,1.04)"><text x="-12.24 0.00" y="0" font-size="22" >23</text></g>
<g transform="translate(580.5,1168.5) scale(0.955,1.04)"><text x="-12.24 0.00" y="0" font-size="22" >21</text><rect x="0.88" y="-3.52" width="4.36" height="5.28" fill="#fff"/><rect x="7.74" y="-3.52" width="4.18" height="5.28" fill="#fff"/></g>
<g transform="translate(135.7,1104.6) scale(0.955,1.04)"><text x="-12.24 0.00" y="0" font-size="22" >17</text><rect x="-11.36" y="-3.52" width="4.36" height="5.28" fill="#fff"/><rect x="-4.49" y="-3.52" width="4.18" height="5.28" fill="#fff"/></g>
<text transform="translate(0,161.7) scale(1,1.06)" x="678.3 694.5 698 714.2 717 735 737.6 753.6 757 773.3 777 790.6 793.2 808.2 811.8" y="0" font-size="21">2,3,4,5,6,7,8,9</text>
<g transform="translate(0,813) scale(1,1.06)"><text x="516.5 527.9 545 549.3 560.7 573 577.4 588.8 602.3 607 618.4 633.8 637.8 649.2 668.4 672 683.4 698.8 702.4 713.8" y="0" font-size="21">16,17,18,19,20,21,22</text><rect x="517.34" y="-3.36" width="4.16" height="5.04" fill="#fff"/><rect x="523.89" y="-3.36" width="3.99" height="5.04" fill="#fff"/><rect x="550.14" y="-3.36" width="4.16" height="5.04" fill="#fff"/><rect x="556.69" y="-3.36" width="3.99" height="5.04" fill="#fff"/><rect x="578.24" y="-3.36" width="4.16" height="5.04" fill="#fff"/><rect x="584.79" y="-3.36" width="3.99" height="5.04" fill="#fff"/><rect x="607.84" y="-3.36" width="4.16" height="5.04" fill="#fff"/><rect x="614.39" y="-3.36" width="3.99" height="5.04" fill="#fff"/><rect x="684.24" y="-3.36" width="4.16" height="5.04" fill="#fff"/><rect x="690.79" y="-3.36" width="3.99" height="5.04" fill="#fff"/></g>
</g>
</svg>
</body></html>
